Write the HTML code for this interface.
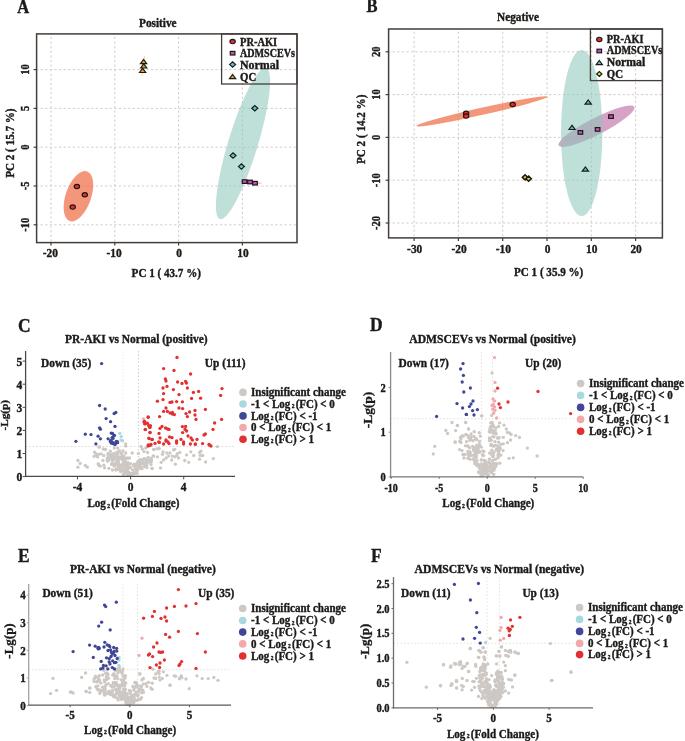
<!DOCTYPE html>
<html><head><meta charset="utf-8"><style>
html,body{margin:0;padding:0;background:#fff;}
svg{display:block;filter:blur(0.35px);}
text{font-family:"Liberation Serif",serif;font-weight:bold;stroke:#1c1a18;stroke-width:0.35px;}
</style></head><body>
<svg width="685" height="741" viewBox="0 0 685 741">
<rect width="685" height="741" fill="#fff"/>
<line x1="51.0" y1="33.9" x2="51.0" y2="242.6" stroke="#d5ccc8" stroke-width="1" stroke-dasharray="2.3 2.3" stroke-dashoffset="1.65"/>
<line x1="114.8" y1="33.9" x2="114.8" y2="242.6" stroke="#d5ccc8" stroke-width="1" stroke-dasharray="2.3 2.3" stroke-dashoffset="1.65"/>
<line x1="178.6" y1="33.9" x2="178.6" y2="242.6" stroke="#d5ccc8" stroke-width="1" stroke-dasharray="2.3 2.3" stroke-dashoffset="1.65"/>
<line x1="242.4" y1="33.9" x2="242.4" y2="242.6" stroke="#d5ccc8" stroke-width="1" stroke-dasharray="2.3 2.3" stroke-dashoffset="1.65"/>
<line x1="36.6" y1="69.6" x2="297" y2="69.6" stroke="#d5ccc8" stroke-width="1" stroke-dasharray="2.3 2.3" stroke-dashoffset="0.6"/>
<line x1="36.6" y1="108.4" x2="297" y2="108.4" stroke="#d5ccc8" stroke-width="1" stroke-dasharray="2.3 2.3" stroke-dashoffset="0.6"/>
<line x1="36.6" y1="147.2" x2="297" y2="147.2" stroke="#d5ccc8" stroke-width="1" stroke-dasharray="2.3 2.3" stroke-dashoffset="0.6"/>
<line x1="36.6" y1="186.0" x2="297" y2="186.0" stroke="#d5ccc8" stroke-width="1" stroke-dasharray="2.3 2.3" stroke-dashoffset="0.6"/>
<line x1="36.6" y1="224.8" x2="297" y2="224.8" stroke="#d5ccc8" stroke-width="1" stroke-dasharray="2.3 2.3" stroke-dashoffset="0.6"/>
<ellipse cx="78.4" cy="196.2" rx="12.7" ry="26.3" transform="rotate(19.3 78.4 196.2)" fill="#ef734c" fill-opacity="0.75"/>
<ellipse cx="243" cy="143.5" rx="14.8" ry="79" transform="rotate(17 243 143.5)" fill="#8bc7ba" fill-opacity="0.55"/>
<ellipse cx="143.2" cy="66" rx="0.6" ry="10.5" transform="rotate(8 143.2 66)" fill="#f7c56a"/>
<ellipse cx="250.5" cy="182.3" rx="11.5" ry="0.6" transform="rotate(5 250.5 182.3)" fill="#e890d0"/>
<ellipse cx="76.9" cy="186.5" rx="2.65" ry="2.15" fill="#ee2a2a" stroke="#1a1a1a" stroke-width="1.2"/>
<ellipse cx="84.8" cy="194.8" rx="2.65" ry="2.15" fill="#ee2a2a" stroke="#1a1a1a" stroke-width="1.2"/>
<ellipse cx="72.7" cy="207.1" rx="2.65" ry="2.15" fill="#ee2a2a" stroke="#1a1a1a" stroke-width="1.2"/>
<path d="M140.5 63.7L143.6 59.5L146.7 63.7Z" fill="#e9a22a" stroke="#1a1a1a" stroke-width="1.2" stroke-linejoin="miter"/>
<path d="M140.6 68.0L143.7 63.8L146.8 68.0Z" fill="#e9a22a" stroke="#1a1a1a" stroke-width="1.2" stroke-linejoin="miter"/>
<path d="M139.5 72.5L142.6 68.3L145.7 72.5Z" fill="#e9a22a" stroke="#1a1a1a" stroke-width="1.2" stroke-linejoin="miter"/>
<path d="M251.8 108.2L254.8 105.5L257.8 108.2L254.8 110.9Z" fill="#5fc4bd" stroke="#1a1a1a" stroke-width="1.2"/>
<path d="M230.0 155.6L233 152.9L236.0 155.6L233 158.3Z" fill="#5fc4bd" stroke="#1a1a1a" stroke-width="1.2"/>
<path d="M238.4 166.6L241.4 163.9L244.4 166.6L241.4 169.3Z" fill="#5fc4bd" stroke="#1a1a1a" stroke-width="1.2"/>
<rect x="242.3" y="179.8" width="4.6" height="3.6" fill="#c552b2" stroke="#1a1a1a" stroke-width="1.2"/>
<rect x="247.7" y="180.2" width="4.6" height="3.6" fill="#c552b2" stroke="#1a1a1a" stroke-width="1.2"/>
<rect x="252.7" y="181.4" width="4.6" height="3.6" fill="#c552b2" stroke="#1a1a1a" stroke-width="1.2"/>
<rect x="36.6" y="33.9" width="260.4" height="208.7" fill="none" stroke="#443d38" stroke-width="1.5"/>
<line x1="51.0" y1="242.6" x2="51.0" y2="245.6" stroke="#443d38" stroke-width="1.2"/>
<text transform="translate(50.3 257) scale(1 1.03)" font-size="11.4" text-anchor="middle" fill="#1c1a18">-20</text>
<line x1="114.8" y1="242.6" x2="114.8" y2="245.6" stroke="#443d38" stroke-width="1.2"/>
<text transform="translate(114.1 257) scale(1 1.03)" font-size="11.4" text-anchor="middle" fill="#1c1a18">-10</text>
<line x1="178.6" y1="242.6" x2="178.6" y2="245.6" stroke="#443d38" stroke-width="1.2"/>
<text transform="translate(179.1 257) scale(1 1.03)" font-size="11.4" text-anchor="middle" fill="#1c1a18">0</text>
<line x1="242.4" y1="242.6" x2="242.4" y2="245.6" stroke="#443d38" stroke-width="1.2"/>
<text transform="translate(242.9 257) scale(1 1.03)" font-size="11.4" text-anchor="middle" fill="#1c1a18">10</text>
<line x1="33.6" y1="69.6" x2="36.6" y2="69.6" stroke="#443d38" stroke-width="1.2"/>
<text transform="translate(29 69.6) rotate(-90) scale(1 1.15)" font-size="10.5" text-anchor="middle" fill="#1c1a18">10</text>
<line x1="33.6" y1="108.4" x2="36.6" y2="108.4" stroke="#443d38" stroke-width="1.2"/>
<text transform="translate(29 108.4) rotate(-90) scale(1 1.15)" font-size="10.5" text-anchor="middle" fill="#1c1a18">5</text>
<line x1="33.6" y1="147.2" x2="36.6" y2="147.2" stroke="#443d38" stroke-width="1.2"/>
<text transform="translate(29 147.2) rotate(-90) scale(1 1.15)" font-size="10.5" text-anchor="middle" fill="#1c1a18">0</text>
<line x1="33.6" y1="186.0" x2="36.6" y2="186.0" stroke="#443d38" stroke-width="1.2"/>
<text transform="translate(29 186.0) rotate(-90) scale(1 1.15)" font-size="10.5" text-anchor="middle" fill="#1c1a18">-5</text>
<line x1="33.6" y1="224.8" x2="36.6" y2="224.8" stroke="#443d38" stroke-width="1.2"/>
<text transform="translate(29 224.8) rotate(-90) scale(1 1.15)" font-size="10.5" text-anchor="middle" fill="#1c1a18">-10</text>
<rect x="221.6" y="33.9" width="75.4" height="50.1" fill="none" stroke="#443d38" stroke-width="1.3"/>
<ellipse cx="232.6" cy="41.6" rx="2.65" ry="2.15" fill="#ee2a2a" stroke="#1a1a1a" stroke-width="1.2"/>
<rect x="230.3" y="51.4" width="4.6" height="3.6" fill="#c552b2" stroke="#1a1a1a" stroke-width="1.2"/>
<path d="M229.6 64.6L232.6 61.9L235.6 64.6L232.6 67.3Z" fill="#5fc4bd" stroke="#1a1a1a" stroke-width="1.2"/>
<path d="M229.5 78.7L232.6 74.5L235.7 78.7Z" fill="#e9a22a" stroke="#1a1a1a" stroke-width="1.2" stroke-linejoin="miter"/>
<text transform="translate(240 45.6) scale(1 1.15)" font-size="10.3" text-anchor="start" textLength="37.2" lengthAdjust="spacingAndGlyphs" fill="#1c1a18">PR-AKI</text>
<text transform="translate(240 57) scale(1 1.15)" font-size="10.3" text-anchor="start" textLength="55" lengthAdjust="spacingAndGlyphs" fill="#1c1a18">ADMSCEVs</text>
<text transform="translate(240 68.8) scale(1 1.15)" font-size="10.3" text-anchor="start" textLength="39" lengthAdjust="spacingAndGlyphs" fill="#1c1a18">Normal</text>
<text transform="translate(240 80.6) scale(1 1.15)" font-size="10.3" text-anchor="start" textLength="16.2" lengthAdjust="spacingAndGlyphs" fill="#1c1a18">QC</text>
<text transform="translate(17.2 12.8) scale(1 1.1)" font-size="16.5" text-anchor="start" fill="#1c1a18">A</text>
<text transform="translate(139 27) scale(1 1.15)" font-size="11.3" text-anchor="start" fill="#1c1a18">Positive</text>
<text transform="translate(131.6 276.5) scale(1 1.15)" font-size="11.1" text-anchor="start" fill="#1c1a18">PC 1 ( 43.7 %)</text>
<text transform="translate(13.8 143.1) rotate(-90) scale(1 1.15)" font-size="11.1" text-anchor="middle" fill="#1c1a18">PC 2 ( 15.7 %)</text>
<line x1="414.1" y1="29.0" x2="414.1" y2="237.9" stroke="#d5ccc8" stroke-width="1" stroke-dasharray="2.3 2.3" stroke-dashoffset="1.85"/>
<line x1="458.4" y1="29.0" x2="458.4" y2="237.9" stroke="#d5ccc8" stroke-width="1" stroke-dasharray="2.3 2.3" stroke-dashoffset="1.85"/>
<line x1="502.7" y1="29.0" x2="502.7" y2="237.9" stroke="#d5ccc8" stroke-width="1" stroke-dasharray="2.3 2.3" stroke-dashoffset="1.85"/>
<line x1="547.0" y1="29.0" x2="547.0" y2="237.9" stroke="#d5ccc8" stroke-width="1" stroke-dasharray="2.3 2.3" stroke-dashoffset="1.85"/>
<line x1="591.3" y1="29.0" x2="591.3" y2="237.9" stroke="#d5ccc8" stroke-width="1" stroke-dasharray="2.3 2.3" stroke-dashoffset="1.85"/>
<line x1="635.6" y1="29.0" x2="635.6" y2="237.9" stroke="#d5ccc8" stroke-width="1" stroke-dasharray="2.3 2.3" stroke-dashoffset="1.85"/>
<line x1="388.6" y1="51.8" x2="662.4" y2="51.8" stroke="#d5ccc8" stroke-width="1" stroke-dasharray="2.3 2.3" stroke-dashoffset="0.6"/>
<line x1="388.6" y1="94.6" x2="662.4" y2="94.6" stroke="#d5ccc8" stroke-width="1" stroke-dasharray="2.3 2.3" stroke-dashoffset="0.6"/>
<line x1="388.6" y1="137.4" x2="662.4" y2="137.4" stroke="#d5ccc8" stroke-width="1" stroke-dasharray="2.3 2.3" stroke-dashoffset="0.6"/>
<line x1="388.6" y1="180.2" x2="662.4" y2="180.2" stroke="#d5ccc8" stroke-width="1" stroke-dasharray="2.3 2.3" stroke-dashoffset="0.6"/>
<line x1="388.6" y1="223.0" x2="662.4" y2="223.0" stroke="#d5ccc8" stroke-width="1" stroke-dasharray="2.3 2.3" stroke-dashoffset="0.6"/>
<ellipse cx="482" cy="111.3" rx="67.2" ry="3.6" transform="rotate(-12.6 482 111.3)" fill="#ef734c" fill-opacity="0.75"/>
<ellipse cx="596.5" cy="126.2" rx="42.5" ry="8.4" transform="rotate(-27 596.5 126.2)" fill="#b966a0" fill-opacity="0.6"/>
<ellipse cx="581.7" cy="133" rx="20.7" ry="83" transform="rotate(0 581.7 133)" fill="#8bc7ba" fill-opacity="0.55"/>
<ellipse cx="527" cy="178" rx="3.2" ry="1.0" transform="rotate(15 527 178)" fill="#f0f070"/>
<ellipse cx="466.1" cy="113.2" rx="2.65" ry="2.15" fill="#ee2a2a" stroke="#1a1a1a" stroke-width="1.2"/>
<ellipse cx="466.1" cy="116.1" rx="2.65" ry="2.15" fill="#ee2a2a" stroke="#1a1a1a" stroke-width="1.2"/>
<ellipse cx="512.7" cy="104.5" rx="2.65" ry="2.15" fill="#ee2a2a" stroke="#1a1a1a" stroke-width="1.2"/>
<rect x="578.1" y="130.6" width="4.6" height="3.6" fill="#c552b2" stroke="#1a1a1a" stroke-width="1.2"/>
<rect x="595.3" y="127.6" width="4.6" height="3.6" fill="#c552b2" stroke="#1a1a1a" stroke-width="1.2"/>
<rect x="608.7" y="114.8" width="4.6" height="3.6" fill="#c552b2" stroke="#1a1a1a" stroke-width="1.2"/>
<path d="M585.1 104.1L588.2 99.9L591.3 104.1Z" fill="#5fc4bd" stroke="#1a1a1a" stroke-width="1.2" stroke-linejoin="miter"/>
<path d="M568.9 129.5L572 125.3L575.1 129.5Z" fill="#5fc4bd" stroke="#1a1a1a" stroke-width="1.2" stroke-linejoin="miter"/>
<path d="M582.3 171.1L585.4 166.9L588.5 171.1Z" fill="#5fc4bd" stroke="#1a1a1a" stroke-width="1.2" stroke-linejoin="miter"/>
<path d="M522.4 177.4L525.1 174.8L527.8 177.4L525.1 180.0Z" fill="#d4d43c" stroke="#1e1812" stroke-width="1.5"/>
<path d="M525.9 178.7L528.6 176.1L531.3 178.7L528.6 181.3Z" fill="#d4d43c" stroke="#1e1812" stroke-width="1.5"/>
<rect x="388.6" y="29.0" width="273.8" height="208.9" fill="none" stroke="#443d38" stroke-width="1.5"/>
<line x1="414.1" y1="237.9" x2="414.1" y2="240.9" stroke="#443d38" stroke-width="1.2"/>
<text transform="translate(414.7 253.3) scale(1 1.03)" font-size="11.4" text-anchor="middle" fill="#1c1a18">-30</text>
<line x1="458.4" y1="237.9" x2="458.4" y2="240.9" stroke="#443d38" stroke-width="1.2"/>
<text transform="translate(459.0 253.3) scale(1 1.03)" font-size="11.4" text-anchor="middle" fill="#1c1a18">-20</text>
<line x1="502.7" y1="237.9" x2="502.7" y2="240.9" stroke="#443d38" stroke-width="1.2"/>
<text transform="translate(503.3 253.3) scale(1 1.03)" font-size="11.4" text-anchor="middle" fill="#1c1a18">-10</text>
<line x1="547.0" y1="237.9" x2="547.0" y2="240.9" stroke="#443d38" stroke-width="1.2"/>
<text transform="translate(547.5 253.3) scale(1 1.03)" font-size="11.4" text-anchor="middle" fill="#1c1a18">0</text>
<line x1="591.3" y1="237.9" x2="591.3" y2="240.9" stroke="#443d38" stroke-width="1.2"/>
<text transform="translate(591.8 253.3) scale(1 1.03)" font-size="11.4" text-anchor="middle" fill="#1c1a18">10</text>
<line x1="635.6" y1="237.9" x2="635.6" y2="240.9" stroke="#443d38" stroke-width="1.2"/>
<text transform="translate(636.1 253.3) scale(1 1.03)" font-size="11.4" text-anchor="middle" fill="#1c1a18">20</text>
<line x1="385.6" y1="51.8" x2="388.6" y2="51.8" stroke="#443d38" stroke-width="1.2"/>
<text transform="translate(379.5 51.8) rotate(-90) scale(1 1.15)" font-size="10.5" text-anchor="middle" fill="#1c1a18">20</text>
<line x1="385.6" y1="94.6" x2="388.6" y2="94.6" stroke="#443d38" stroke-width="1.2"/>
<text transform="translate(379.5 94.6) rotate(-90) scale(1 1.15)" font-size="10.5" text-anchor="middle" fill="#1c1a18">10</text>
<line x1="385.6" y1="137.4" x2="388.6" y2="137.4" stroke="#443d38" stroke-width="1.2"/>
<text transform="translate(379.5 137.4) rotate(-90) scale(1 1.15)" font-size="10.5" text-anchor="middle" fill="#1c1a18">0</text>
<line x1="385.6" y1="180.2" x2="388.6" y2="180.2" stroke="#443d38" stroke-width="1.2"/>
<text transform="translate(379.5 180.2) rotate(-90) scale(1 1.15)" font-size="10.5" text-anchor="middle" fill="#1c1a18">-10</text>
<line x1="385.6" y1="223.0" x2="388.6" y2="223.0" stroke="#443d38" stroke-width="1.2"/>
<text transform="translate(379.5 223.0) rotate(-90) scale(1 1.15)" font-size="10.5" text-anchor="middle" fill="#1c1a18">-20</text>
<rect x="590.4" y="29.0" width="72.0" height="51.6" fill="none" stroke="#443d38" stroke-width="1.3"/>
<ellipse cx="599.3" cy="39.4" rx="2.65" ry="2.15" fill="#ee2a2a" stroke="#1a1a1a" stroke-width="1.2"/>
<rect x="597.0" y="49.2" width="4.6" height="3.6" fill="#c552b2" stroke="#1a1a1a" stroke-width="1.2"/>
<path d="M596.2 64.7L599.3 60.5L602.4 64.7Z" fill="#5fc4bd" stroke="#1a1a1a" stroke-width="1.2" stroke-linejoin="miter"/>
<path d="M596.7 74L599.3 71.66L601.9 74L599.3 76.34Z" fill="#e5e53a" stroke="#1a1a1a" stroke-width="1.2"/>
<text transform="translate(606.8 42.6) scale(1 1.15)" font-size="10.3" text-anchor="start" textLength="36.6" lengthAdjust="spacingAndGlyphs" fill="#1c1a18">PR-AKI</text>
<text transform="translate(606.8 54.2) scale(1 1.15)" font-size="10.3" text-anchor="start" textLength="55.4" lengthAdjust="spacingAndGlyphs" fill="#1c1a18">ADMSCEVs</text>
<text transform="translate(606.8 66) scale(1 1.15)" font-size="10.3" text-anchor="start" textLength="38.4" lengthAdjust="spacingAndGlyphs" fill="#1c1a18">Normal</text>
<text transform="translate(606.8 77.6) scale(1 1.15)" font-size="10.3" text-anchor="start" textLength="16.2" lengthAdjust="spacingAndGlyphs" fill="#1c1a18">QC</text>
<text transform="translate(366.4 12) scale(1 1.1)" font-size="16.5" text-anchor="start" fill="#1c1a18">B</text>
<text transform="translate(497 21.2) scale(1 1.15)" font-size="11.3" text-anchor="start" fill="#1c1a18">Negative</text>
<text transform="translate(514 276) scale(1 1.15)" font-size="11.1" text-anchor="start" fill="#1c1a18">PC 1 ( 35.9 %)</text>
<text transform="translate(364.6 129.3) rotate(-90) scale(1 1.15)" font-size="11.1" text-anchor="middle" fill="#1c1a18">PC 2 ( 14.2 %)</text>
<line x1="122.9" y1="351" x2="122.9" y2="476.4" stroke="#eeeae8" stroke-width="1" stroke-dasharray="1.5 2"/>
<line x1="138.5" y1="351" x2="138.5" y2="476.4" stroke="#d6cecb" stroke-width="1" stroke-dasharray="1.5 2"/>
<line x1="25.6" y1="446.55" x2="235" y2="446.55" stroke="#dcd7d4" stroke-width="1" stroke-dasharray="1.5 2"/>
<circle cx="77.9" cy="460.5" r="1.65" fill="#cdc8c4"/>
<circle cx="80.2" cy="463.4" r="1.65" fill="#cdc8c4"/>
<circle cx="77.9" cy="467.2" r="1.65" fill="#cdc8c4"/>
<circle cx="85.3" cy="465.4" r="1.65" fill="#cdc8c4"/>
<circle cx="87.3" cy="467.2" r="1.65" fill="#cdc8c4"/>
<circle cx="94.6" cy="452.2" r="1.65" fill="#cdc8c4"/>
<circle cx="94.1" cy="456.4" r="1.65" fill="#cdc8c4"/>
<circle cx="96.4" cy="455.3" r="1.65" fill="#cdc8c4"/>
<circle cx="98.1" cy="454.6" r="1.65" fill="#cdc8c4"/>
<circle cx="99.1" cy="447.2" r="1.65" fill="#cdc8c4"/>
<circle cx="98.1" cy="464.1" r="1.65" fill="#cdc8c4"/>
<circle cx="99.1" cy="465.4" r="1.65" fill="#cdc8c4"/>
<circle cx="99.4" cy="446.8" r="1.65" fill="#cdc8c4"/>
<circle cx="103.3" cy="449" r="1.65" fill="#cdc8c4"/>
<circle cx="105.5" cy="449.5" r="1.65" fill="#cdc8c4"/>
<circle cx="114.3" cy="448.1" r="1.65" fill="#cdc8c4"/>
<circle cx="117.8" cy="448.1" r="1.65" fill="#cdc8c4"/>
<circle cx="125.7" cy="443.8" r="1.65" fill="#cdc8c4"/>
<circle cx="125.7" cy="446" r="1.65" fill="#cdc8c4"/>
<circle cx="141" cy="446.4" r="1.65" fill="#cdc8c4"/>
<circle cx="142.3" cy="449" r="1.65" fill="#cdc8c4"/>
<circle cx="145.8" cy="448.1" r="1.65" fill="#cdc8c4"/>
<circle cx="153.7" cy="449.5" r="1.65" fill="#cdc8c4"/>
<circle cx="95.9" cy="453.8" r="1.65" fill="#cdc8c4"/>
<circle cx="98.5" cy="454.3" r="1.65" fill="#cdc8c4"/>
<circle cx="101.1" cy="453.8" r="1.65" fill="#cdc8c4"/>
<circle cx="103.8" cy="455.6" r="1.65" fill="#cdc8c4"/>
<circle cx="108.1" cy="453.4" r="1.65" fill="#cdc8c4"/>
<circle cx="110.3" cy="451.2" r="1.65" fill="#cdc8c4"/>
<circle cx="113.8" cy="453.4" r="1.65" fill="#cdc8c4"/>
<circle cx="116.9" cy="452.1" r="1.65" fill="#cdc8c4"/>
<circle cx="119.5" cy="450.8" r="1.65" fill="#cdc8c4"/>
<circle cx="121.3" cy="453.4" r="1.65" fill="#cdc8c4"/>
<circle cx="123" cy="450.8" r="1.65" fill="#cdc8c4"/>
<circle cx="125.7" cy="453" r="1.65" fill="#cdc8c4"/>
<circle cx="132.2" cy="453" r="1.65" fill="#cdc8c4"/>
<circle cx="138.4" cy="453.4" r="1.65" fill="#cdc8c4"/>
<circle cx="147.6" cy="452.5" r="1.65" fill="#cdc8c4"/>
<circle cx="144" cy="451.6" r="1.65" fill="#cdc8c4"/>
<circle cx="153.2" cy="456" r="1.65" fill="#cdc8c4"/>
<circle cx="97.6" cy="456.9" r="1.65" fill="#cdc8c4"/>
<circle cx="102.9" cy="460.4" r="1.65" fill="#cdc8c4"/>
<circle cx="107.3" cy="457.8" r="1.65" fill="#cdc8c4"/>
<circle cx="109" cy="459.5" r="1.65" fill="#cdc8c4"/>
<circle cx="111.6" cy="457.8" r="1.65" fill="#cdc8c4"/>
<circle cx="114.3" cy="459.5" r="1.65" fill="#cdc8c4"/>
<circle cx="116.5" cy="456.5" r="1.65" fill="#cdc8c4"/>
<circle cx="117.8" cy="460.4" r="1.65" fill="#cdc8c4"/>
<circle cx="121.3" cy="457.8" r="1.65" fill="#cdc8c4"/>
<circle cx="123.9" cy="456" r="1.65" fill="#cdc8c4"/>
<circle cx="125.2" cy="459.5" r="1.65" fill="#cdc8c4"/>
<circle cx="141.4" cy="460.4" r="1.65" fill="#cdc8c4"/>
<circle cx="144" cy="458.6" r="1.65" fill="#cdc8c4"/>
<circle cx="146.7" cy="459.5" r="1.65" fill="#cdc8c4"/>
<circle cx="149.3" cy="460.4" r="1.65" fill="#cdc8c4"/>
<circle cx="151" cy="461.3" r="1.65" fill="#cdc8c4"/>
<circle cx="98.5" cy="463.9" r="1.65" fill="#cdc8c4"/>
<circle cx="100.3" cy="466.1" r="1.65" fill="#cdc8c4"/>
<circle cx="103.8" cy="465.2" r="1.65" fill="#cdc8c4"/>
<circle cx="104.6" cy="467.8" r="1.65" fill="#cdc8c4"/>
<circle cx="109" cy="468.3" r="1.65" fill="#cdc8c4"/>
<circle cx="111.6" cy="463.9" r="1.65" fill="#cdc8c4"/>
<circle cx="115.1" cy="463.9" r="1.65" fill="#cdc8c4"/>
<circle cx="118.6" cy="463.9" r="1.65" fill="#cdc8c4"/>
<circle cx="121.3" cy="464.8" r="1.65" fill="#cdc8c4"/>
<circle cx="123.9" cy="463" r="1.65" fill="#cdc8c4"/>
<circle cx="125.7" cy="464.8" r="1.65" fill="#cdc8c4"/>
<circle cx="128.3" cy="466.5" r="1.65" fill="#cdc8c4"/>
<circle cx="133.5" cy="465.7" r="1.65" fill="#cdc8c4"/>
<circle cx="136.2" cy="463.9" r="1.65" fill="#cdc8c4"/>
<circle cx="138.8" cy="464.8" r="1.65" fill="#cdc8c4"/>
<circle cx="142.3" cy="463" r="1.65" fill="#cdc8c4"/>
<circle cx="145.8" cy="463" r="1.65" fill="#cdc8c4"/>
<circle cx="148.4" cy="462.2" r="1.65" fill="#cdc8c4"/>
<circle cx="151.9" cy="468.3" r="1.65" fill="#cdc8c4"/>
<circle cx="112.5" cy="470" r="1.65" fill="#cdc8c4"/>
<circle cx="116" cy="470" r="1.65" fill="#cdc8c4"/>
<circle cx="118.6" cy="469.2" r="1.65" fill="#cdc8c4"/>
<circle cx="121.3" cy="470" r="1.65" fill="#cdc8c4"/>
<circle cx="123.9" cy="470.9" r="1.65" fill="#cdc8c4"/>
<circle cx="126.5" cy="471.8" r="1.65" fill="#cdc8c4"/>
<circle cx="129.2" cy="472.7" r="1.65" fill="#cdc8c4"/>
<circle cx="131.8" cy="473.5" r="1.65" fill="#cdc8c4"/>
<circle cx="134.4" cy="471.8" r="1.65" fill="#cdc8c4"/>
<circle cx="137" cy="470" r="1.65" fill="#cdc8c4"/>
<circle cx="139.7" cy="468.3" r="1.65" fill="#cdc8c4"/>
<circle cx="135.3" cy="468.3" r="1.65" fill="#cdc8c4"/>
<circle cx="137.9" cy="465.7" r="1.65" fill="#cdc8c4"/>
<circle cx="123.9" cy="474" r="1.65" fill="#cdc8c4"/>
<circle cx="127.4" cy="474" r="1.65" fill="#cdc8c4"/>
<circle cx="130.9" cy="474.4" r="1.65" fill="#cdc8c4"/>
<circle cx="133.5" cy="474" r="1.65" fill="#cdc8c4"/>
<circle cx="136.2" cy="473.5" r="1.65" fill="#cdc8c4"/>
<circle cx="154.3" cy="449.3" r="1.65" fill="#cdc8c4"/>
<circle cx="157.4" cy="448.7" r="1.65" fill="#cdc8c4"/>
<circle cx="159.3" cy="448.7" r="1.65" fill="#cdc8c4"/>
<circle cx="163" cy="451.8" r="1.65" fill="#cdc8c4"/>
<circle cx="162.4" cy="454.3" r="1.65" fill="#cdc8c4"/>
<circle cx="166.8" cy="453" r="1.65" fill="#cdc8c4"/>
<circle cx="169.9" cy="453" r="1.65" fill="#cdc8c4"/>
<circle cx="173.6" cy="449.9" r="1.65" fill="#cdc8c4"/>
<circle cx="174.8" cy="449.3" r="1.65" fill="#cdc8c4"/>
<circle cx="177.3" cy="453.6" r="1.65" fill="#cdc8c4"/>
<circle cx="179.8" cy="452.4" r="1.65" fill="#cdc8c4"/>
<circle cx="153.7" cy="456.1" r="1.65" fill="#cdc8c4"/>
<circle cx="157.4" cy="456.8" r="1.65" fill="#cdc8c4"/>
<circle cx="166.1" cy="458" r="1.65" fill="#cdc8c4"/>
<circle cx="168.6" cy="456.1" r="1.65" fill="#cdc8c4"/>
<circle cx="172.3" cy="456.1" r="1.65" fill="#cdc8c4"/>
<circle cx="174.8" cy="456.8" r="1.65" fill="#cdc8c4"/>
<circle cx="176.7" cy="455.5" r="1.65" fill="#cdc8c4"/>
<circle cx="178.5" cy="458" r="1.65" fill="#cdc8c4"/>
<circle cx="171.7" cy="459.9" r="1.65" fill="#cdc8c4"/>
<circle cx="163.6" cy="459.9" r="1.65" fill="#cdc8c4"/>
<circle cx="161.2" cy="462.3" r="1.65" fill="#cdc8c4"/>
<circle cx="151.2" cy="461.7" r="1.65" fill="#cdc8c4"/>
<circle cx="151.2" cy="459.2" r="1.65" fill="#cdc8c4"/>
<circle cx="186.6" cy="454.9" r="1.65" fill="#cdc8c4"/>
<circle cx="190.7" cy="451.8" r="1.65" fill="#cdc8c4"/>
<circle cx="193.7" cy="455.5" r="1.65" fill="#cdc8c4"/>
<circle cx="199.6" cy="452.4" r="1.65" fill="#cdc8c4"/>
<circle cx="200.9" cy="451.2" r="1.65" fill="#cdc8c4"/>
<circle cx="200.3" cy="455.5" r="1.65" fill="#cdc8c4"/>
<circle cx="202.7" cy="455.5" r="1.65" fill="#cdc8c4"/>
<circle cx="199.6" cy="459.2" r="1.65" fill="#cdc8c4"/>
<circle cx="205.6" cy="462" r="1.65" fill="#cdc8c4"/>
<circle cx="213.3" cy="458.6" r="1.65" fill="#cdc8c4"/>
<circle cx="217.4" cy="446.6" r="1.65" fill="#cdc8c4"/>
<circle cx="184.7" cy="460.5" r="1.65" fill="#cdc8c4"/>
<circle cx="188.7" cy="462.3" r="1.65" fill="#cdc8c4"/>
<circle cx="175.4" cy="464.2" r="1.65" fill="#cdc8c4"/>
<circle cx="160.5" cy="467.9" r="1.65" fill="#cdc8c4"/>
<circle cx="152.2" cy="468.5" r="1.65" fill="#cdc8c4"/>
<circle cx="118.7" cy="459.2" r="1.65" fill="#cdc8c4"/>
<circle cx="118.2" cy="467.0" r="1.65" fill="#cdc8c4"/>
<circle cx="118.0" cy="457.4" r="1.65" fill="#cdc8c4"/>
<circle cx="108.8" cy="456.8" r="1.65" fill="#cdc8c4"/>
<circle cx="122.6" cy="465.0" r="1.65" fill="#cdc8c4"/>
<circle cx="136.0" cy="466.6" r="1.65" fill="#cdc8c4"/>
<circle cx="126.1" cy="471.5" r="1.65" fill="#cdc8c4"/>
<circle cx="144.8" cy="458.8" r="1.65" fill="#cdc8c4"/>
<circle cx="118.4" cy="462.3" r="1.65" fill="#cdc8c4"/>
<circle cx="138.1" cy="465.3" r="1.65" fill="#cdc8c4"/>
<circle cx="127.1" cy="468.3" r="1.65" fill="#cdc8c4"/>
<circle cx="109.1" cy="458.7" r="1.65" fill="#cdc8c4"/>
<circle cx="140.7" cy="466.3" r="1.65" fill="#cdc8c4"/>
<circle cx="127.8" cy="464.5" r="1.65" fill="#cdc8c4"/>
<circle cx="107.1" cy="460.1" r="1.65" fill="#cdc8c4"/>
<circle cx="116.5" cy="463.0" r="1.65" fill="#cdc8c4"/>
<circle cx="108.7" cy="458.2" r="1.65" fill="#cdc8c4"/>
<circle cx="111.8" cy="464.0" r="1.65" fill="#cdc8c4"/>
<circle cx="127.1" cy="464.8" r="1.65" fill="#cdc8c4"/>
<circle cx="123.3" cy="474.3" r="1.65" fill="#cdc8c4"/>
<circle cx="112.8" cy="460.7" r="1.65" fill="#cdc8c4"/>
<circle cx="118.7" cy="464.4" r="1.65" fill="#cdc8c4"/>
<circle cx="150.9" cy="458.2" r="1.65" fill="#cdc8c4"/>
<circle cx="125.9" cy="464.9" r="1.65" fill="#cdc8c4"/>
<circle cx="130.5" cy="473.7" r="1.65" fill="#cdc8c4"/>
<circle cx="117.7" cy="459.1" r="1.65" fill="#cdc8c4"/>
<circle cx="119.4" cy="457.0" r="1.65" fill="#cdc8c4"/>
<circle cx="112.5" cy="456.1" r="1.65" fill="#cdc8c4"/>
<circle cx="121.8" cy="456.7" r="1.65" fill="#cdc8c4"/>
<circle cx="126.4" cy="468.0" r="1.65" fill="#cdc8c4"/>
<circle cx="118.7" cy="466.8" r="1.65" fill="#cdc8c4"/>
<circle cx="122.3" cy="459.7" r="1.65" fill="#cdc8c4"/>
<circle cx="151.0" cy="464.5" r="1.65" fill="#cdc8c4"/>
<circle cx="113.8" cy="459.0" r="1.65" fill="#cdc8c4"/>
<circle cx="108.1" cy="454.8" r="1.65" fill="#cdc8c4"/>
<circle cx="123.4" cy="465.6" r="1.65" fill="#cdc8c4"/>
<circle cx="118.3" cy="465.2" r="1.65" fill="#cdc8c4"/>
<circle cx="116.0" cy="469.2" r="1.65" fill="#cdc8c4"/>
<circle cx="114.1" cy="457.2" r="1.65" fill="#cdc8c4"/>
<circle cx="120.7" cy="468.3" r="1.65" fill="#cdc8c4"/>
<circle cx="118.0" cy="453.3" r="1.65" fill="#cdc8c4"/>
<circle cx="111.8" cy="464.4" r="1.65" fill="#cdc8c4"/>
<circle cx="127.0" cy="474.3" r="1.65" fill="#cdc8c4"/>
<circle cx="138.5" cy="463.1" r="1.65" fill="#cdc8c4"/>
<circle cx="128.0" cy="473.2" r="1.65" fill="#cdc8c4"/>
<circle cx="150.9" cy="459.9" r="1.65" fill="#cdc8c4"/>
<circle cx="133.4" cy="473.7" r="1.65" fill="#cdc8c4"/>
<circle cx="139.3" cy="460.6" r="1.65" fill="#cdc8c4"/>
<circle cx="122.3" cy="465.4" r="1.65" fill="#cdc8c4"/>
<circle cx="124.8" cy="468.9" r="1.65" fill="#cdc8c4"/>
<circle cx="115.7" cy="454.8" r="1.65" fill="#cdc8c4"/>
<circle cx="125.7" cy="463.3" r="1.65" fill="#cdc8c4"/>
<circle cx="112.3" cy="463.8" r="1.65" fill="#cdc8c4"/>
<circle cx="114.7" cy="466.0" r="1.65" fill="#cdc8c4"/>
<circle cx="151.0" cy="460.5" r="1.65" fill="#cdc8c4"/>
<circle cx="110.7" cy="455.1" r="1.65" fill="#cdc8c4"/>
<circle cx="145.8" cy="460.7" r="1.65" fill="#cdc8c4"/>
<circle cx="121.4" cy="453.4" r="1.65" fill="#cdc8c4"/>
<circle cx="114.0" cy="465.8" r="1.65" fill="#cdc8c4"/>
<circle cx="139.9" cy="468.1" r="1.65" fill="#cdc8c4"/>
<circle cx="144.2" cy="464.0" r="1.65" fill="#cdc8c4"/>
<circle cx="116.8" cy="454.1" r="1.65" fill="#cdc8c4"/>
<circle cx="112.2" cy="460.2" r="1.65" fill="#cdc8c4"/>
<circle cx="132.6" cy="469.9" r="1.65" fill="#cdc8c4"/>
<circle cx="143.5" cy="463.6" r="1.65" fill="#cdc8c4"/>
<circle cx="111.3" cy="454.2" r="1.65" fill="#cdc8c4"/>
<circle cx="149.6" cy="461.0" r="1.65" fill="#cdc8c4"/>
<circle cx="142.1" cy="460.5" r="1.65" fill="#cdc8c4"/>
<circle cx="122.3" cy="458.8" r="1.65" fill="#cdc8c4"/>
<circle cx="128.7" cy="473.6" r="1.65" fill="#cdc8c4"/>
<circle cx="123.5" cy="462.4" r="1.65" fill="#cdc8c4"/>
<circle cx="119.8" cy="458.4" r="1.65" fill="#cdc8c4"/>
<circle cx="128.5" cy="474.5" r="1.65" fill="#cdc8c4"/>
<circle cx="125.1" cy="467.3" r="1.65" fill="#cdc8c4"/>
<circle cx="112.6" cy="463.8" r="1.65" fill="#cdc8c4"/>
<circle cx="110.9" cy="455.2" r="1.65" fill="#cdc8c4"/>
<circle cx="142.0" cy="468.7" r="1.65" fill="#cdc8c4"/>
<circle cx="112.8" cy="458.4" r="1.65" fill="#cdc8c4"/>
<circle cx="129.2" cy="473.5" r="1.65" fill="#cdc8c4"/>
<circle cx="117.6" cy="464.1" r="1.65" fill="#cdc8c4"/>
<circle cx="127.9" cy="467.3" r="1.65" fill="#cdc8c4"/>
<circle cx="126.5" cy="466.1" r="1.65" fill="#cdc8c4"/>
<circle cx="107.8" cy="461.2" r="1.65" fill="#cdc8c4"/>
<circle cx="127.4" cy="471.1" r="1.65" fill="#cdc8c4"/>
<circle cx="142.3" cy="461.7" r="1.65" fill="#cdc8c4"/>
<circle cx="128.8" cy="472.5" r="1.65" fill="#cdc8c4"/>
<circle cx="140.2" cy="466.5" r="1.65" fill="#cdc8c4"/>
<circle cx="111.0" cy="456.4" r="1.65" fill="#cdc8c4"/>
<circle cx="121.7" cy="470.5" r="1.65" fill="#cdc8c4"/>
<circle cx="140.9" cy="463.6" r="1.65" fill="#cdc8c4"/>
<circle cx="126.6" cy="469.7" r="1.65" fill="#cdc8c4"/>
<circle cx="127.6" cy="469.0" r="1.65" fill="#cdc8c4"/>
<circle cx="129.5" cy="457.9" r="1.65" fill="#cdc8c4"/>
<circle cx="116.0" cy="462.8" r="1.65" fill="#cdc8c4"/>
<circle cx="128.2" cy="458.3" r="1.65" fill="#cdc8c4"/>
<circle cx="118.5" cy="466.0" r="1.65" fill="#cdc8c4"/>
<circle cx="130.6" cy="467.6" r="1.65" fill="#cdc8c4"/>
<circle cx="123.8" cy="459.1" r="1.65" fill="#cdc8c4"/>
<circle cx="130.5" cy="463.7" r="1.65" fill="#cdc8c4"/>
<circle cx="117.2" cy="460.7" r="1.65" fill="#cdc8c4"/>
<circle cx="129.0" cy="467.7" r="1.65" fill="#cdc8c4"/>
<circle cx="125.7" cy="462.3" r="1.65" fill="#cdc8c4"/>
<circle cx="124.5" cy="466.4" r="1.65" fill="#cdc8c4"/>
<circle cx="129.7" cy="463.8" r="1.65" fill="#cdc8c4"/>
<circle cx="117.7" cy="468.6" r="1.65" fill="#cdc8c4"/>
<circle cx="124.8" cy="458.1" r="1.65" fill="#cdc8c4"/>
<circle cx="127.3" cy="458.0" r="1.65" fill="#cdc8c4"/>
<circle cx="127.9" cy="462.6" r="1.65" fill="#cdc8c4"/>
<circle cx="118.3" cy="457.1" r="1.65" fill="#cdc8c4"/>
<circle cx="127.6" cy="464.3" r="1.65" fill="#cdc8c4"/>
<circle cx="121.6" cy="467.3" r="1.65" fill="#cdc8c4"/>
<circle cx="118.3" cy="461.5" r="1.65" fill="#cdc8c4"/>
<circle cx="127.9" cy="469.2" r="1.65" fill="#cdc8c4"/>
<circle cx="117.4" cy="469.5" r="1.65" fill="#cdc8c4"/>
<circle cx="120.6" cy="471.5" r="1.65" fill="#cdc8c4"/>
<circle cx="125.7" cy="472.6" r="1.65" fill="#cdc8c4"/>
<circle cx="117.5" cy="459.2" r="1.65" fill="#cdc8c4"/>
<circle cx="116.8" cy="458.1" r="1.65" fill="#cdc8c4"/>
<circle cx="123.7" cy="471.3" r="1.65" fill="#cdc8c4"/>
<circle cx="117.1" cy="456.9" r="1.65" fill="#cdc8c4"/>
<circle cx="142.4" cy="461.7" r="1.65" fill="#cdc8c4"/>
<circle cx="138.2" cy="462.3" r="1.65" fill="#cdc8c4"/>
<circle cx="135.0" cy="465.3" r="1.65" fill="#cdc8c4"/>
<circle cx="138.8" cy="468.2" r="1.65" fill="#cdc8c4"/>
<circle cx="141.3" cy="459.8" r="1.65" fill="#cdc8c4"/>
<circle cx="140.5" cy="459.8" r="1.65" fill="#cdc8c4"/>
<circle cx="137.0" cy="466.3" r="1.65" fill="#cdc8c4"/>
<circle cx="136.2" cy="470.1" r="1.65" fill="#cdc8c4"/>
<circle cx="138.0" cy="461.2" r="1.65" fill="#cdc8c4"/>
<circle cx="145.1" cy="466.6" r="1.65" fill="#cdc8c4"/>
<circle cx="140.4" cy="459.6" r="1.65" fill="#cdc8c4"/>
<circle cx="142.0" cy="463.6" r="1.65" fill="#cdc8c4"/>
<circle cx="148.1" cy="457.4" r="1.65" fill="#cdc8c4"/>
<circle cx="146.9" cy="467.5" r="1.65" fill="#cdc8c4"/>
<circle cx="146.2" cy="462.1" r="1.65" fill="#cdc8c4"/>
<circle cx="133.8" cy="464.5" r="1.65" fill="#cdc8c4"/>
<circle cx="146.5" cy="463.8" r="1.65" fill="#cdc8c4"/>
<circle cx="136.8" cy="472.6" r="1.65" fill="#cdc8c4"/>
<circle cx="135.7" cy="467.9" r="1.65" fill="#cdc8c4"/>
<circle cx="144.1" cy="466.6" r="1.65" fill="#cdc8c4"/>
<circle cx="146.8" cy="465.1" r="1.65" fill="#cdc8c4"/>
<circle cx="147.5" cy="461.8" r="1.65" fill="#cdc8c4"/>
<circle cx="143.6" cy="462.9" r="1.65" fill="#cdc8c4"/>
<circle cx="138.8" cy="466.2" r="1.65" fill="#cdc8c4"/>
<circle cx="148.2" cy="461.5" r="1.65" fill="#cdc8c4"/>
<circle cx="119.8" cy="433.3" r="1.65" fill="#a9d9de"/>
<circle cx="121.3" cy="436.6" r="1.65" fill="#a9d9de"/>
<circle cx="120.8" cy="440.1" r="1.65" fill="#a9d9de"/>
<circle cx="122.6" cy="440.7" r="1.65" fill="#a9d9de"/>
<circle cx="143.5" cy="418.8" r="1.65" fill="#f1a9ab"/>
<circle cx="101.6" cy="363.6" r="1.65" fill="#3f4796"/>
<circle cx="99.6" cy="405.5" r="1.65" fill="#3f4796"/>
<circle cx="105.2" cy="409" r="1.65" fill="#3f4796"/>
<circle cx="114.1" cy="413.6" r="1.65" fill="#3f4796"/>
<circle cx="115.8" cy="412.5" r="1.65" fill="#3f4796"/>
<circle cx="106.1" cy="418.6" r="1.65" fill="#3f4796"/>
<circle cx="110.6" cy="421.7" r="1.65" fill="#3f4796"/>
<circle cx="115" cy="426.4" r="1.65" fill="#3f4796"/>
<circle cx="99.6" cy="427.8" r="1.65" fill="#3f4796"/>
<circle cx="100.4" cy="429.2" r="1.65" fill="#3f4796"/>
<circle cx="111.2" cy="433.1" r="1.65" fill="#3f4796"/>
<circle cx="112.5" cy="433.5" r="1.65" fill="#3f4796"/>
<circle cx="114.4" cy="435.3" r="1.65" fill="#3f4796"/>
<circle cx="98.1" cy="436.2" r="1.65" fill="#3f4796"/>
<circle cx="100.4" cy="438.8" r="1.65" fill="#3f4796"/>
<circle cx="108.1" cy="438.8" r="1.65" fill="#3f4796"/>
<circle cx="113" cy="438.4" r="1.65" fill="#3f4796"/>
<circle cx="110.8" cy="440.5" r="1.65" fill="#3f4796"/>
<circle cx="112.1" cy="441.9" r="1.65" fill="#3f4796"/>
<circle cx="116.5" cy="441.4" r="1.65" fill="#3f4796"/>
<circle cx="117.6" cy="442.7" r="1.65" fill="#3f4796"/>
<circle cx="115.1" cy="443.6" r="1.65" fill="#3f4796"/>
<circle cx="113" cy="443.6" r="1.65" fill="#3f4796"/>
<circle cx="111.2" cy="443" r="1.65" fill="#3f4796"/>
<circle cx="95.9" cy="443.9" r="1.65" fill="#3f4796"/>
<circle cx="75.9" cy="441.3" r="1.65" fill="#3f4796"/>
<circle cx="85.3" cy="434.2" r="1.65" fill="#3f4796"/>
<circle cx="91" cy="434.6" r="1.65" fill="#3f4796"/>
<circle cx="110.3" cy="441.6" r="1.65" fill="#3f4796"/>
<circle cx="112.5" cy="442.9" r="1.65" fill="#3f4796"/>
<circle cx="113.8" cy="443.8" r="1.65" fill="#3f4796"/>
<circle cx="116" cy="442" r="1.65" fill="#3f4796"/>
<circle cx="117.3" cy="441.6" r="1.65" fill="#3f4796"/>
<circle cx="115.1" cy="444.6" r="1.65" fill="#3f4796"/>
<circle cx="112.1" cy="437.6" r="1.65" fill="#3f4796"/>
<circle cx="113.8" cy="435.9" r="1.65" fill="#3f4796"/>
<circle cx="177" cy="357.4" r="1.65" fill="#e23030"/>
<circle cx="163.6" cy="368.6" r="1.65" fill="#e23030"/>
<circle cx="174" cy="370.4" r="1.65" fill="#e23030"/>
<circle cx="190.6" cy="374" r="1.65" fill="#e23030"/>
<circle cx="165.4" cy="379" r="1.65" fill="#e23030"/>
<circle cx="166" cy="381" r="1.65" fill="#e23030"/>
<circle cx="177.6" cy="382" r="1.65" fill="#e23030"/>
<circle cx="182" cy="383.4" r="1.65" fill="#e23030"/>
<circle cx="185.6" cy="381.4" r="1.65" fill="#e23030"/>
<circle cx="186.4" cy="383" r="1.65" fill="#e23030"/>
<circle cx="222" cy="388.6" r="1.65" fill="#e23030"/>
<circle cx="163" cy="388" r="1.65" fill="#e23030"/>
<circle cx="167" cy="386.4" r="1.65" fill="#e23030"/>
<circle cx="173.4" cy="389.6" r="1.65" fill="#e23030"/>
<circle cx="187.4" cy="388" r="1.65" fill="#e23030"/>
<circle cx="193.4" cy="392.4" r="1.65" fill="#e23030"/>
<circle cx="198.6" cy="391.4" r="1.65" fill="#e23030"/>
<circle cx="163.6" cy="393.6" r="1.65" fill="#e23030"/>
<circle cx="179" cy="394.6" r="1.65" fill="#e23030"/>
<circle cx="220.6" cy="395.4" r="1.65" fill="#e23030"/>
<circle cx="191.6" cy="398.4" r="1.65" fill="#e23030"/>
<circle cx="200.6" cy="398.2" r="1.65" fill="#e23030"/>
<circle cx="163" cy="399.6" r="1.65" fill="#e23030"/>
<circle cx="157.4" cy="401.2" r="1.65" fill="#e23030"/>
<circle cx="170" cy="402.4" r="1.65" fill="#e23030"/>
<circle cx="172" cy="402" r="1.65" fill="#e23030"/>
<circle cx="176.6" cy="401.6" r="1.65" fill="#e23030"/>
<circle cx="182.4" cy="401.8" r="1.65" fill="#e23030"/>
<circle cx="179" cy="408" r="1.65" fill="#e23030"/>
<circle cx="182.6" cy="408.6" r="1.65" fill="#e23030"/>
<circle cx="166" cy="408" r="1.65" fill="#e23030"/>
<circle cx="163.6" cy="411.4" r="1.65" fill="#e23030"/>
<circle cx="167.4" cy="411.4" r="1.65" fill="#e23030"/>
<circle cx="170" cy="413" r="1.65" fill="#e23030"/>
<circle cx="172.4" cy="414" r="1.65" fill="#e23030"/>
<circle cx="174.4" cy="414.6" r="1.65" fill="#e23030"/>
<circle cx="172.4" cy="412.4" r="1.65" fill="#e23030"/>
<circle cx="186" cy="413.6" r="1.65" fill="#e23030"/>
<circle cx="189.6" cy="412" r="1.65" fill="#e23030"/>
<circle cx="195" cy="410.4" r="1.65" fill="#e23030"/>
<circle cx="195" cy="415" r="1.65" fill="#e23030"/>
<circle cx="187.4" cy="416.6" r="1.65" fill="#e23030"/>
<circle cx="205.4" cy="409.4" r="1.65" fill="#e23030"/>
<circle cx="159.6" cy="416.6" r="1.65" fill="#e23030"/>
<circle cx="148.2" cy="417" r="1.65" fill="#e23030"/>
<circle cx="196" cy="419.4" r="1.65" fill="#e23030"/>
<circle cx="221.6" cy="419.4" r="1.65" fill="#e23030"/>
<circle cx="144" cy="422" r="1.65" fill="#e23030"/>
<circle cx="145.6" cy="423.6" r="1.65" fill="#e23030"/>
<circle cx="148.6" cy="425.6" r="1.65" fill="#e23030"/>
<circle cx="150" cy="427.4" r="1.65" fill="#e23030"/>
<circle cx="214.6" cy="423" r="1.65" fill="#e23030"/>
<circle cx="162" cy="426.4" r="1.65" fill="#e23030"/>
<circle cx="165.6" cy="428" r="1.65" fill="#e23030"/>
<circle cx="167.6" cy="429" r="1.65" fill="#e23030"/>
<circle cx="169" cy="429.4" r="1.65" fill="#e23030"/>
<circle cx="160" cy="428.4" r="1.65" fill="#e23030"/>
<circle cx="182.4" cy="426.6" r="1.65" fill="#e23030"/>
<circle cx="185.6" cy="426.4" r="1.65" fill="#e23030"/>
<circle cx="185" cy="429.4" r="1.65" fill="#e23030"/>
<circle cx="186.6" cy="431" r="1.65" fill="#e23030"/>
<circle cx="145.4" cy="429.4" r="1.65" fill="#e23030"/>
<circle cx="159" cy="433.4" r="1.65" fill="#e23030"/>
<circle cx="150" cy="432.6" r="1.65" fill="#e23030"/>
<circle cx="182.6" cy="432.6" r="1.65" fill="#e23030"/>
<circle cx="188" cy="436" r="1.65" fill="#e23030"/>
<circle cx="213" cy="429.4" r="1.65" fill="#e23030"/>
<circle cx="204" cy="435" r="1.65" fill="#e23030"/>
<circle cx="205.4" cy="434" r="1.65" fill="#e23030"/>
<circle cx="169.6" cy="437" r="1.65" fill="#e23030"/>
<circle cx="172" cy="437.6" r="1.65" fill="#e23030"/>
<circle cx="160" cy="438" r="1.65" fill="#e23030"/>
<circle cx="149" cy="438.6" r="1.65" fill="#e23030"/>
<circle cx="152.4" cy="439.4" r="1.65" fill="#e23030"/>
<circle cx="166" cy="440" r="1.65" fill="#e23030"/>
<circle cx="176.6" cy="441" r="1.65" fill="#e23030"/>
<circle cx="181" cy="439.4" r="1.65" fill="#e23030"/>
<circle cx="191" cy="438" r="1.65" fill="#e23030"/>
<circle cx="192.4" cy="440" r="1.65" fill="#e23030"/>
<circle cx="197" cy="439.4" r="1.65" fill="#e23030"/>
<circle cx="183.6" cy="442" r="1.65" fill="#e23030"/>
<circle cx="168" cy="442" r="1.65" fill="#e23030"/>
<circle cx="169" cy="443.6" r="1.65" fill="#e23030"/>
<circle cx="163.6" cy="444" r="1.65" fill="#e23030"/>
<circle cx="159.4" cy="442.4" r="1.65" fill="#e23030"/>
<circle cx="155" cy="443.4" r="1.65" fill="#e23030"/>
<circle cx="150" cy="445.4" r="1.65" fill="#e23030"/>
<circle cx="148" cy="446" r="1.65" fill="#e23030"/>
<circle cx="176.6" cy="443" r="1.65" fill="#e23030"/>
<circle cx="183.6" cy="444" r="1.65" fill="#e23030"/>
<circle cx="190.4" cy="444" r="1.65" fill="#e23030"/>
<circle cx="195.4" cy="444" r="1.65" fill="#e23030"/>
<circle cx="202.6" cy="443.6" r="1.65" fill="#e23030"/>
<circle cx="209" cy="444.4" r="1.65" fill="#e23030"/>
<circle cx="211" cy="446" r="1.65" fill="#e23030"/>
<circle cx="148.2" cy="417.3" r="1.65" fill="#e23030"/>
<circle cx="144.5" cy="421.3" r="1.65" fill="#e23030"/>
<circle cx="147.4" cy="423.2" r="1.65" fill="#e23030"/>
<circle cx="144.7" cy="423.9" r="1.65" fill="#e23030"/>
<circle cx="150.4" cy="425.7" r="1.65" fill="#e23030"/>
<circle cx="149.5" cy="427.1" r="1.65" fill="#e23030"/>
<circle cx="145.2" cy="429.6" r="1.65" fill="#e23030"/>
<circle cx="150" cy="432.5" r="1.65" fill="#e23030"/>
<circle cx="148.9" cy="438.1" r="1.65" fill="#e23030"/>
<circle cx="151.8" cy="439.5" r="1.65" fill="#e23030"/>
<circle cx="151" cy="444.5" r="1.65" fill="#e23030"/>
<circle cx="148.4" cy="444.8" r="1.65" fill="#e23030"/>
<circle cx="158.7" cy="441.9" r="1.65" fill="#e23030"/>
<circle cx="166.1" cy="441.2" r="1.65" fill="#e23030"/>
<circle cx="195.3" cy="444.3" r="1.65" fill="#e23030"/>
<circle cx="209.3" cy="445" r="1.65" fill="#e23030"/>
<line x1="25.6" y1="351" x2="25.6" y2="477.0" stroke="#4f4a46" stroke-width="1.3"/>
<line x1="25.0" y1="476.4" x2="235" y2="476.4" stroke="#4f4a46" stroke-width="1.3"/>
<line x1="22.6" y1="476.6" x2="25.6" y2="476.6" stroke="#4f4a46" stroke-width="1"/>
<text transform="translate(22.3 481.09) scale(1 1.15)" font-size="11.5" text-anchor="end" fill="#1c1a18">0</text>
<line x1="22.6" y1="453.5" x2="25.6" y2="453.5" stroke="#4f4a46" stroke-width="1"/>
<text transform="translate(22.3 457.99) scale(1 1.15)" font-size="11.5" text-anchor="end" fill="#1c1a18">1</text>
<line x1="22.6" y1="430.4" x2="25.6" y2="430.4" stroke="#4f4a46" stroke-width="1"/>
<text transform="translate(22.3 434.89) scale(1 1.15)" font-size="11.5" text-anchor="end" fill="#1c1a18">2</text>
<line x1="22.6" y1="407.3" x2="25.6" y2="407.3" stroke="#4f4a46" stroke-width="1"/>
<text transform="translate(22.3 411.79) scale(1 1.15)" font-size="11.5" text-anchor="end" fill="#1c1a18">3</text>
<line x1="22.6" y1="384.2" x2="25.6" y2="384.2" stroke="#4f4a46" stroke-width="1"/>
<text transform="translate(22.3 388.69) scale(1 1.15)" font-size="11.5" text-anchor="end" fill="#1c1a18">4</text>
<line x1="22.6" y1="361.1" x2="25.6" y2="361.1" stroke="#4f4a46" stroke-width="1"/>
<text transform="translate(22.3 365.59) scale(1 1.15)" font-size="11.5" text-anchor="end" fill="#1c1a18">5</text>
<line x1="77.48" y1="476.4" x2="77.48" y2="479.4" stroke="#4f4a46" stroke-width="1"/>
<text transform="translate(77.48 491) scale(1 1.15)" font-size="11.5" text-anchor="middle" fill="#1c1a18">-4</text>
<line x1="130.6" y1="476.4" x2="130.6" y2="479.4" stroke="#4f4a46" stroke-width="1"/>
<text transform="translate(130.6 491) scale(1 1.15)" font-size="11.5" text-anchor="middle" fill="#1c1a18">0</text>
<line x1="183.72" y1="476.4" x2="183.72" y2="479.4" stroke="#4f4a46" stroke-width="1"/>
<text transform="translate(183.72 491) scale(1 1.15)" font-size="11.5" text-anchor="middle" fill="#1c1a18">4</text>
<text transform="translate(18 332) scale(1 1.1)" font-size="17.5" text-anchor="start" fill="#1c1a18">C</text>
<text transform="translate(65 342.7) scale(1 1.15)" font-size="11.5" text-anchor="start" fill="#1c1a18">PR-AKI vs Normal (positive)</text>
<text transform="translate(41 367.4) scale(1 1.15)" font-size="11.4" text-anchor="start" fill="#1c1a18">Down (35)</text>
<text transform="translate(204.8 367.3) scale(1 1.15)" font-size="11.4" text-anchor="start" fill="#1c1a18">Up (111)</text>
<text transform="translate(8.3 415.3) rotate(-90) scale(1 0.95)" font-size="11.2" text-anchor="middle" fill="#1c1a18">-Lg(p)</text>
<text transform="translate(87.4 507.4) scale(1 1.15)" font-size="11.1" text-anchor="start" fill="#1c1a18">Log<tspan font-size="5.6" dx="1.3" dy="0.3">2</tspan><tspan dx="1.3" dy="-0.3">(Fold Change)</tspan></text>
<circle cx="243" cy="392.4" r="3.8" fill="#cdc8c4"/>
<text transform="translate(251 396.1) scale(1 1.15)" font-size="11" text-anchor="start" fill="#1c1a18">Insignificant change</text>
<circle cx="243" cy="404" r="3.8" fill="#a9d9de"/>
<text transform="translate(251 407.7) scale(1 1.15)" font-size="11" text-anchor="start" fill="#1c1a18">-1 &lt; Log<tspan font-size="5.4" dx="1.4" dy="0.5">2</tspan><tspan dx="1.3" dy="-0.5">(FC) &lt; 0</tspan></text>
<circle cx="243" cy="415.9" r="3.8" fill="#3f4796"/>
<text transform="translate(251 419.6) scale(1 1.15)" font-size="11" text-anchor="start" fill="#1c1a18">Log<tspan font-size="5.4" dx="1.4" dy="0.5">2</tspan><tspan dx="1.3" dy="-0.5">(FC) &lt; -1</tspan></text>
<circle cx="243" cy="427.5" r="3.8" fill="#f1a9ab"/>
<text transform="translate(251 431.2) scale(1 1.15)" font-size="11" text-anchor="start" fill="#1c1a18">0 &lt; Log<tspan font-size="5.4" dx="1.4" dy="0.5">2</tspan><tspan dx="1.3" dy="-0.5">(FC) &lt; 1</tspan></text>
<circle cx="243" cy="439.2" r="3.8" fill="#e23030"/>
<text transform="translate(251 442.9) scale(1 1.15)" font-size="11" text-anchor="start" fill="#1c1a18">Log<tspan font-size="5.4" dx="1.4" dy="0.5">2</tspan><tspan dx="1.3" dy="-0.5">(FC) &gt; 1</tspan></text>
<line x1="481.4" y1="352" x2="481.4" y2="476.9" stroke="#e8e0dd" stroke-width="1" stroke-dasharray="1.5 2"/>
<line x1="492.5" y1="352" x2="492.5" y2="476.9" stroke="#e8e0dd" stroke-width="1" stroke-dasharray="1.5 2"/>
<line x1="390.6" y1="418.72" x2="583.2" y2="418.72" stroke="#e4dedb" stroke-width="1" stroke-dasharray="1.5 2"/>
<circle cx="492" cy="373" r="1.65" fill="#cdc8c4"/>
<circle cx="481.7" cy="415.9" r="1.65" fill="#cdc8c4"/>
<circle cx="491.7" cy="415.4" r="1.65" fill="#cdc8c4"/>
<circle cx="452" cy="422.5" r="1.65" fill="#cdc8c4"/>
<circle cx="465.8" cy="422.5" r="1.65" fill="#cdc8c4"/>
<circle cx="457.3" cy="425.5" r="1.65" fill="#cdc8c4"/>
<circle cx="468.5" cy="428.9" r="1.65" fill="#cdc8c4"/>
<circle cx="481.8" cy="415.8" r="1.65" fill="#cdc8c4"/>
<circle cx="445.8" cy="430.4" r="1.65" fill="#cdc8c4"/>
<circle cx="447.6" cy="433.5" r="1.65" fill="#cdc8c4"/>
<circle cx="455.6" cy="430.6" r="1.65" fill="#cdc8c4"/>
<circle cx="474.2" cy="431.7" r="1.65" fill="#cdc8c4"/>
<circle cx="471.1" cy="434" r="1.65" fill="#cdc8c4"/>
<circle cx="479.3" cy="432.7" r="1.65" fill="#cdc8c4"/>
<circle cx="463.4" cy="436.1" r="1.65" fill="#cdc8c4"/>
<circle cx="460.9" cy="439.1" r="1.65" fill="#cdc8c4"/>
<circle cx="468.5" cy="437.6" r="1.65" fill="#cdc8c4"/>
<circle cx="474" cy="436.4" r="1.65" fill="#cdc8c4"/>
<circle cx="480.3" cy="436.1" r="1.65" fill="#cdc8c4"/>
<circle cx="466.5" cy="441.7" r="1.65" fill="#cdc8c4"/>
<circle cx="473.1" cy="440.7" r="1.65" fill="#cdc8c4"/>
<circle cx="476.7" cy="439.6" r="1.65" fill="#cdc8c4"/>
<circle cx="455.3" cy="442.2" r="1.65" fill="#cdc8c4"/>
<circle cx="434.8" cy="446.3" r="1.65" fill="#cdc8c4"/>
<circle cx="433.3" cy="453.9" r="1.65" fill="#cdc8c4"/>
<circle cx="459.6" cy="449.6" r="1.65" fill="#cdc8c4"/>
<circle cx="465.5" cy="445.8" r="1.65" fill="#cdc8c4"/>
<circle cx="467.5" cy="445.8" r="1.65" fill="#cdc8c4"/>
<circle cx="472.6" cy="446.3" r="1.65" fill="#cdc8c4"/>
<circle cx="475.7" cy="446.8" r="1.65" fill="#cdc8c4"/>
<circle cx="468" cy="451.4" r="1.65" fill="#cdc8c4"/>
<circle cx="470.1" cy="451.9" r="1.65" fill="#cdc8c4"/>
<circle cx="462.9" cy="454.5" r="1.65" fill="#cdc8c4"/>
<circle cx="465" cy="454.5" r="1.65" fill="#cdc8c4"/>
<circle cx="463.9" cy="458" r="1.65" fill="#cdc8c4"/>
<circle cx="467.8" cy="458.2" r="1.65" fill="#cdc8c4"/>
<circle cx="470.1" cy="459.3" r="1.65" fill="#cdc8c4"/>
<circle cx="473.1" cy="459" r="1.65" fill="#cdc8c4"/>
<circle cx="474.7" cy="463.6" r="1.65" fill="#cdc8c4"/>
<circle cx="499.6" cy="422.9" r="1.65" fill="#cdc8c4"/>
<circle cx="504" cy="425.1" r="1.65" fill="#cdc8c4"/>
<circle cx="506.3" cy="429" r="1.65" fill="#cdc8c4"/>
<circle cx="498.5" cy="426.5" r="1.65" fill="#cdc8c4"/>
<circle cx="507.4" cy="432.4" r="1.65" fill="#cdc8c4"/>
<circle cx="509.6" cy="433" r="1.65" fill="#cdc8c4"/>
<circle cx="511.2" cy="434.6" r="1.65" fill="#cdc8c4"/>
<circle cx="515.7" cy="435.6" r="1.65" fill="#cdc8c4"/>
<circle cx="519.5" cy="437.5" r="1.65" fill="#cdc8c4"/>
<circle cx="503.3" cy="437.3" r="1.65" fill="#cdc8c4"/>
<circle cx="499.3" cy="437.6" r="1.65" fill="#cdc8c4"/>
<circle cx="510.6" cy="440" r="1.65" fill="#cdc8c4"/>
<circle cx="507.4" cy="442.7" r="1.65" fill="#cdc8c4"/>
<circle cx="503.3" cy="443.8" r="1.65" fill="#cdc8c4"/>
<circle cx="500.9" cy="444.3" r="1.65" fill="#cdc8c4"/>
<circle cx="527.4" cy="448.1" r="1.65" fill="#cdc8c4"/>
<circle cx="503.1" cy="450.6" r="1.65" fill="#cdc8c4"/>
<circle cx="537.1" cy="456" r="1.65" fill="#cdc8c4"/>
<circle cx="509" cy="458.3" r="1.65" fill="#cdc8c4"/>
<circle cx="513.3" cy="457.8" r="1.65" fill="#cdc8c4"/>
<circle cx="499.8" cy="463.2" r="1.65" fill="#cdc8c4"/>
<circle cx="500.9" cy="455.1" r="1.65" fill="#cdc8c4"/>
<circle cx="457.6" cy="425.6" r="1.65" fill="#cdc8c4"/>
<circle cx="465.6" cy="422.4" r="1.65" fill="#cdc8c4"/>
<circle cx="468.6" cy="429" r="1.65" fill="#cdc8c4"/>
<circle cx="460.4" cy="437.6" r="1.65" fill="#cdc8c4"/>
<circle cx="455" cy="442" r="1.65" fill="#cdc8c4"/>
<circle cx="469" cy="437.6" r="1.65" fill="#cdc8c4"/>
<circle cx="481.2" cy="459.9" r="1.65" fill="#cdc8c4"/>
<circle cx="487.0" cy="471.4" r="1.65" fill="#cdc8c4"/>
<circle cx="484.7" cy="469.9" r="1.65" fill="#cdc8c4"/>
<circle cx="476.9" cy="465.4" r="1.65" fill="#cdc8c4"/>
<circle cx="486.7" cy="466.0" r="1.65" fill="#cdc8c4"/>
<circle cx="475.1" cy="453.1" r="1.65" fill="#cdc8c4"/>
<circle cx="476.3" cy="438.6" r="1.65" fill="#cdc8c4"/>
<circle cx="477.7" cy="450.7" r="1.65" fill="#cdc8c4"/>
<circle cx="483.8" cy="472.5" r="1.65" fill="#cdc8c4"/>
<circle cx="479.2" cy="466.7" r="1.65" fill="#cdc8c4"/>
<circle cx="484.9" cy="462.0" r="1.65" fill="#cdc8c4"/>
<circle cx="483.9" cy="451.6" r="1.65" fill="#cdc8c4"/>
<circle cx="478.8" cy="447.6" r="1.65" fill="#cdc8c4"/>
<circle cx="473.8" cy="455.7" r="1.65" fill="#cdc8c4"/>
<circle cx="485.9" cy="461.4" r="1.65" fill="#cdc8c4"/>
<circle cx="479.0" cy="472.8" r="1.65" fill="#cdc8c4"/>
<circle cx="479.4" cy="467.8" r="1.65" fill="#cdc8c4"/>
<circle cx="484.8" cy="469.2" r="1.65" fill="#cdc8c4"/>
<circle cx="473.7" cy="448.8" r="1.65" fill="#cdc8c4"/>
<circle cx="485.9" cy="470.0" r="1.65" fill="#cdc8c4"/>
<circle cx="483.8" cy="460.1" r="1.65" fill="#cdc8c4"/>
<circle cx="486.9" cy="467.2" r="1.65" fill="#cdc8c4"/>
<circle cx="476.0" cy="451.7" r="1.65" fill="#cdc8c4"/>
<circle cx="473.8" cy="455.0" r="1.65" fill="#cdc8c4"/>
<circle cx="481.3" cy="475.9" r="1.65" fill="#cdc8c4"/>
<circle cx="482.6" cy="464.7" r="1.65" fill="#cdc8c4"/>
<circle cx="475.5" cy="439.0" r="1.65" fill="#cdc8c4"/>
<circle cx="480.4" cy="469.2" r="1.65" fill="#cdc8c4"/>
<circle cx="476.2" cy="453.6" r="1.65" fill="#cdc8c4"/>
<circle cx="479.6" cy="445.6" r="1.65" fill="#cdc8c4"/>
<circle cx="485.1" cy="460.8" r="1.65" fill="#cdc8c4"/>
<circle cx="479.5" cy="441.5" r="1.65" fill="#cdc8c4"/>
<circle cx="477.5" cy="463.9" r="1.65" fill="#cdc8c4"/>
<circle cx="479.7" cy="452.2" r="1.65" fill="#cdc8c4"/>
<circle cx="477.3" cy="465.7" r="1.65" fill="#cdc8c4"/>
<circle cx="486.2" cy="463.9" r="1.65" fill="#cdc8c4"/>
<circle cx="476.0" cy="447.5" r="1.65" fill="#cdc8c4"/>
<circle cx="478.5" cy="471.9" r="1.65" fill="#cdc8c4"/>
<circle cx="477.0" cy="460.7" r="1.65" fill="#cdc8c4"/>
<circle cx="479.4" cy="446.3" r="1.65" fill="#cdc8c4"/>
<circle cx="483.6" cy="455.6" r="1.65" fill="#cdc8c4"/>
<circle cx="481.2" cy="474.9" r="1.65" fill="#cdc8c4"/>
<circle cx="477.8" cy="449.4" r="1.65" fill="#cdc8c4"/>
<circle cx="479.5" cy="472.3" r="1.65" fill="#cdc8c4"/>
<circle cx="475.3" cy="449.8" r="1.65" fill="#cdc8c4"/>
<circle cx="487.3" cy="468.4" r="1.65" fill="#cdc8c4"/>
<circle cx="477.0" cy="446.5" r="1.65" fill="#cdc8c4"/>
<circle cx="476.4" cy="455.4" r="1.65" fill="#cdc8c4"/>
<circle cx="481.3" cy="447.1" r="1.65" fill="#cdc8c4"/>
<circle cx="477.6" cy="449.3" r="1.65" fill="#cdc8c4"/>
<circle cx="476.2" cy="457.7" r="1.65" fill="#cdc8c4"/>
<circle cx="483.7" cy="471.2" r="1.65" fill="#cdc8c4"/>
<circle cx="475.1" cy="462.2" r="1.65" fill="#cdc8c4"/>
<circle cx="479.2" cy="444.7" r="1.65" fill="#cdc8c4"/>
<circle cx="475.5" cy="456.4" r="1.65" fill="#cdc8c4"/>
<circle cx="477.9" cy="452.7" r="1.65" fill="#cdc8c4"/>
<circle cx="474.1" cy="459.9" r="1.65" fill="#cdc8c4"/>
<circle cx="482.8" cy="454.8" r="1.65" fill="#cdc8c4"/>
<circle cx="473.7" cy="450.5" r="1.65" fill="#cdc8c4"/>
<circle cx="481.5" cy="472.3" r="1.65" fill="#cdc8c4"/>
<circle cx="479.9" cy="451.7" r="1.65" fill="#cdc8c4"/>
<circle cx="483.6" cy="473.6" r="1.65" fill="#cdc8c4"/>
<circle cx="485.3" cy="473.1" r="1.65" fill="#cdc8c4"/>
<circle cx="485.2" cy="467.7" r="1.65" fill="#cdc8c4"/>
<circle cx="480.2" cy="464.6" r="1.65" fill="#cdc8c4"/>
<circle cx="475.4" cy="461.1" r="1.65" fill="#cdc8c4"/>
<circle cx="483.0" cy="450.8" r="1.65" fill="#cdc8c4"/>
<circle cx="482.7" cy="455.2" r="1.65" fill="#cdc8c4"/>
<circle cx="476.8" cy="445.1" r="1.65" fill="#cdc8c4"/>
<circle cx="474.9" cy="449.3" r="1.65" fill="#cdc8c4"/>
<circle cx="488.6" cy="474.9" r="1.65" fill="#cdc8c4"/>
<circle cx="484.2" cy="464.5" r="1.65" fill="#cdc8c4"/>
<circle cx="488.1" cy="470.3" r="1.65" fill="#cdc8c4"/>
<circle cx="488.8" cy="462.4" r="1.65" fill="#cdc8c4"/>
<circle cx="482.5" cy="467.6" r="1.65" fill="#cdc8c4"/>
<circle cx="481.5" cy="475.6" r="1.65" fill="#cdc8c4"/>
<circle cx="483.1" cy="475.0" r="1.65" fill="#cdc8c4"/>
<circle cx="481.6" cy="467.8" r="1.65" fill="#cdc8c4"/>
<circle cx="493.8" cy="474.3" r="1.65" fill="#cdc8c4"/>
<circle cx="486.0" cy="468.4" r="1.65" fill="#cdc8c4"/>
<circle cx="482.7" cy="473.1" r="1.65" fill="#cdc8c4"/>
<circle cx="491.6" cy="472.7" r="1.65" fill="#cdc8c4"/>
<circle cx="489.9" cy="465.5" r="1.65" fill="#cdc8c4"/>
<circle cx="485.8" cy="466.8" r="1.65" fill="#cdc8c4"/>
<circle cx="487.6" cy="475.6" r="1.65" fill="#cdc8c4"/>
<circle cx="481.2" cy="468.7" r="1.65" fill="#cdc8c4"/>
<circle cx="487.1" cy="466.0" r="1.65" fill="#cdc8c4"/>
<circle cx="490.3" cy="468.1" r="1.65" fill="#cdc8c4"/>
<circle cx="487.8" cy="468.3" r="1.65" fill="#cdc8c4"/>
<circle cx="485.1" cy="467.1" r="1.65" fill="#cdc8c4"/>
<circle cx="483.8" cy="472.8" r="1.65" fill="#cdc8c4"/>
<circle cx="485.4" cy="466.9" r="1.65" fill="#cdc8c4"/>
<circle cx="486.7" cy="473.8" r="1.65" fill="#cdc8c4"/>
<circle cx="481.2" cy="463.8" r="1.65" fill="#cdc8c4"/>
<circle cx="481.9" cy="467.9" r="1.65" fill="#cdc8c4"/>
<circle cx="488.2" cy="471.1" r="1.65" fill="#cdc8c4"/>
<circle cx="487.3" cy="473.9" r="1.65" fill="#cdc8c4"/>
<circle cx="485.4" cy="471.5" r="1.65" fill="#cdc8c4"/>
<circle cx="490.7" cy="471.5" r="1.65" fill="#cdc8c4"/>
<circle cx="487.0" cy="474.4" r="1.65" fill="#cdc8c4"/>
<circle cx="484.7" cy="464.9" r="1.65" fill="#cdc8c4"/>
<circle cx="484.4" cy="473.7" r="1.65" fill="#cdc8c4"/>
<circle cx="482.5" cy="470.5" r="1.65" fill="#cdc8c4"/>
<circle cx="483.0" cy="471.8" r="1.65" fill="#cdc8c4"/>
<circle cx="483.7" cy="469.3" r="1.65" fill="#cdc8c4"/>
<circle cx="492.3" cy="423.8" r="1.65" fill="#cdc8c4"/>
<circle cx="498.8" cy="451.5" r="1.65" fill="#cdc8c4"/>
<circle cx="491.1" cy="440.3" r="1.65" fill="#cdc8c4"/>
<circle cx="494.0" cy="446.1" r="1.65" fill="#cdc8c4"/>
<circle cx="490.0" cy="431.0" r="1.65" fill="#cdc8c4"/>
<circle cx="496.7" cy="449.1" r="1.65" fill="#cdc8c4"/>
<circle cx="492.4" cy="460.6" r="1.65" fill="#cdc8c4"/>
<circle cx="491.3" cy="431.5" r="1.65" fill="#cdc8c4"/>
<circle cx="491.0" cy="445.6" r="1.65" fill="#cdc8c4"/>
<circle cx="494.6" cy="459.6" r="1.65" fill="#cdc8c4"/>
<circle cx="489.4" cy="437.8" r="1.65" fill="#cdc8c4"/>
<circle cx="492.1" cy="455.3" r="1.65" fill="#cdc8c4"/>
<circle cx="500.0" cy="448.5" r="1.65" fill="#cdc8c4"/>
<circle cx="494.4" cy="468.5" r="1.65" fill="#cdc8c4"/>
<circle cx="490.4" cy="426.7" r="1.65" fill="#cdc8c4"/>
<circle cx="489.4" cy="431.7" r="1.65" fill="#cdc8c4"/>
<circle cx="498.3" cy="446.0" r="1.65" fill="#cdc8c4"/>
<circle cx="491.8" cy="471.0" r="1.65" fill="#cdc8c4"/>
<circle cx="489.5" cy="440.5" r="1.65" fill="#cdc8c4"/>
<circle cx="495.7" cy="445.4" r="1.65" fill="#cdc8c4"/>
<circle cx="496.1" cy="434.1" r="1.65" fill="#cdc8c4"/>
<circle cx="489.6" cy="459.1" r="1.65" fill="#cdc8c4"/>
<circle cx="493.5" cy="433.2" r="1.65" fill="#cdc8c4"/>
<circle cx="492.8" cy="436.6" r="1.65" fill="#cdc8c4"/>
<circle cx="493.6" cy="463.3" r="1.65" fill="#cdc8c4"/>
<circle cx="490.2" cy="432.2" r="1.65" fill="#cdc8c4"/>
<circle cx="489.2" cy="462.8" r="1.65" fill="#cdc8c4"/>
<circle cx="491.2" cy="444.3" r="1.65" fill="#cdc8c4"/>
<circle cx="489.9" cy="429.1" r="1.65" fill="#cdc8c4"/>
<circle cx="495.2" cy="430.6" r="1.65" fill="#cdc8c4"/>
<circle cx="493.0" cy="466.7" r="1.65" fill="#cdc8c4"/>
<circle cx="489.3" cy="459.2" r="1.65" fill="#cdc8c4"/>
<circle cx="498.2" cy="450.9" r="1.65" fill="#cdc8c4"/>
<circle cx="496.1" cy="459.1" r="1.65" fill="#cdc8c4"/>
<circle cx="495.8" cy="432.9" r="1.65" fill="#cdc8c4"/>
<circle cx="494.0" cy="445.9" r="1.65" fill="#cdc8c4"/>
<circle cx="495.7" cy="466.4" r="1.65" fill="#cdc8c4"/>
<circle cx="492.7" cy="456.6" r="1.65" fill="#cdc8c4"/>
<circle cx="493.4" cy="452.7" r="1.65" fill="#cdc8c4"/>
<circle cx="497.7" cy="448.4" r="1.65" fill="#cdc8c4"/>
<circle cx="498.2" cy="457.6" r="1.65" fill="#cdc8c4"/>
<circle cx="491.7" cy="426.8" r="1.65" fill="#cdc8c4"/>
<circle cx="492.9" cy="469.2" r="1.65" fill="#cdc8c4"/>
<circle cx="491.7" cy="430.6" r="1.65" fill="#cdc8c4"/>
<circle cx="489.7" cy="453.2" r="1.65" fill="#cdc8c4"/>
<circle cx="500.1" cy="447.9" r="1.65" fill="#cdc8c4"/>
<circle cx="491.3" cy="468.7" r="1.65" fill="#cdc8c4"/>
<circle cx="490.4" cy="427.8" r="1.65" fill="#cdc8c4"/>
<circle cx="496.8" cy="463.6" r="1.65" fill="#cdc8c4"/>
<circle cx="490.3" cy="438.8" r="1.65" fill="#cdc8c4"/>
<circle cx="493.9" cy="470.3" r="1.65" fill="#cdc8c4"/>
<circle cx="498.0" cy="455.4" r="1.65" fill="#cdc8c4"/>
<circle cx="496.1" cy="450.2" r="1.65" fill="#cdc8c4"/>
<circle cx="490.3" cy="463.5" r="1.65" fill="#cdc8c4"/>
<circle cx="499.0" cy="450.5" r="1.65" fill="#cdc8c4"/>
<circle cx="495.0" cy="466.0" r="1.65" fill="#cdc8c4"/>
<circle cx="492.9" cy="432.1" r="1.65" fill="#cdc8c4"/>
<circle cx="498.6" cy="442.2" r="1.65" fill="#cdc8c4"/>
<circle cx="493.9" cy="452.6" r="1.65" fill="#cdc8c4"/>
<circle cx="491.1" cy="445.0" r="1.65" fill="#cdc8c4"/>
<circle cx="497.3" cy="438.0" r="1.65" fill="#cdc8c4"/>
<circle cx="496.8" cy="464.1" r="1.65" fill="#cdc8c4"/>
<circle cx="493.6" cy="455.8" r="1.65" fill="#cdc8c4"/>
<circle cx="499.4" cy="455.2" r="1.65" fill="#cdc8c4"/>
<circle cx="490.9" cy="467.1" r="1.65" fill="#cdc8c4"/>
<circle cx="490.8" cy="422.9" r="1.65" fill="#cdc8c4"/>
<circle cx="493.8" cy="426.9" r="1.65" fill="#cdc8c4"/>
<circle cx="492.6" cy="430.7" r="1.65" fill="#cdc8c4"/>
<circle cx="490.3" cy="452.8" r="1.65" fill="#cdc8c4"/>
<circle cx="491.7" cy="464.1" r="1.65" fill="#cdc8c4"/>
<circle cx="492.7" cy="430.3" r="1.65" fill="#cdc8c4"/>
<circle cx="494.0" cy="436.8" r="1.65" fill="#cdc8c4"/>
<circle cx="493.2" cy="425.4" r="1.65" fill="#cdc8c4"/>
<circle cx="494.9" cy="441.6" r="1.65" fill="#cdc8c4"/>
<circle cx="492.0" cy="422.3" r="1.65" fill="#cdc8c4"/>
<circle cx="494.7" cy="463.4" r="1.65" fill="#cdc8c4"/>
<circle cx="498.6" cy="453.3" r="1.65" fill="#cdc8c4"/>
<circle cx="491.8" cy="450.2" r="1.65" fill="#cdc8c4"/>
<circle cx="496.0" cy="427.8" r="1.65" fill="#cdc8c4"/>
<circle cx="498.4" cy="438.0" r="1.65" fill="#cdc8c4"/>
<circle cx="468.3" cy="446.3" r="1.65" fill="#cdc8c4"/>
<circle cx="470.0" cy="453.5" r="1.65" fill="#cdc8c4"/>
<circle cx="468.1" cy="454.3" r="1.65" fill="#cdc8c4"/>
<circle cx="468.0" cy="435.7" r="1.65" fill="#cdc8c4"/>
<circle cx="462.0" cy="450.6" r="1.65" fill="#cdc8c4"/>
<circle cx="469.5" cy="455.2" r="1.65" fill="#cdc8c4"/>
<circle cx="469.7" cy="440.3" r="1.65" fill="#cdc8c4"/>
<circle cx="471.3" cy="455.3" r="1.65" fill="#cdc8c4"/>
<circle cx="470.6" cy="439.8" r="1.65" fill="#cdc8c4"/>
<circle cx="474.6" cy="450.5" r="1.65" fill="#cdc8c4"/>
<circle cx="469.4" cy="455.8" r="1.65" fill="#cdc8c4"/>
<circle cx="459.8" cy="441.3" r="1.65" fill="#cdc8c4"/>
<circle cx="465.9" cy="434.5" r="1.65" fill="#cdc8c4"/>
<circle cx="462.4" cy="435.6" r="1.65" fill="#cdc8c4"/>
<circle cx="469.6" cy="447.8" r="1.65" fill="#cdc8c4"/>
<circle cx="468.4" cy="457.8" r="1.65" fill="#cdc8c4"/>
<circle cx="471.2" cy="436.7" r="1.65" fill="#cdc8c4"/>
<circle cx="461.1" cy="436.9" r="1.65" fill="#cdc8c4"/>
<circle cx="460.9" cy="442.5" r="1.65" fill="#cdc8c4"/>
<circle cx="468.3" cy="452.5" r="1.65" fill="#cdc8c4"/>
<circle cx="470.8" cy="438.8" r="1.65" fill="#cdc8c4"/>
<circle cx="473.2" cy="448.1" r="1.65" fill="#cdc8c4"/>
<circle cx="494.6" cy="357.6" r="1.65" fill="#f1a9ab"/>
<circle cx="495" cy="382.4" r="1.65" fill="#f1a9ab"/>
<circle cx="495" cy="391" r="1.65" fill="#f1a9ab"/>
<circle cx="493" cy="399" r="1.65" fill="#f1a9ab"/>
<circle cx="494.6" cy="401" r="1.65" fill="#f1a9ab"/>
<circle cx="493.4" cy="404.4" r="1.65" fill="#f1a9ab"/>
<circle cx="492.8" cy="409.2" r="1.65" fill="#f1a9ab"/>
<circle cx="495" cy="410.4" r="1.65" fill="#f1a9ab"/>
<circle cx="493.6" cy="413.2" r="1.65" fill="#f1a9ab"/>
<circle cx="496.6" cy="418" r="1.65" fill="#f1a9ab"/>
<circle cx="492" cy="405.5" r="1.65" fill="#f1a9ab"/>
<circle cx="494.5" cy="407" r="1.65" fill="#f1a9ab"/>
<circle cx="463" cy="363.6" r="1.65" fill="#3f4796"/>
<circle cx="460.6" cy="369" r="1.65" fill="#3f4796"/>
<circle cx="463.4" cy="375.4" r="1.65" fill="#3f4796"/>
<circle cx="462.2" cy="382" r="1.65" fill="#3f4796"/>
<circle cx="470.4" cy="388" r="1.65" fill="#3f4796"/>
<circle cx="463.8" cy="392" r="1.65" fill="#3f4796"/>
<circle cx="473" cy="401" r="1.65" fill="#3f4796"/>
<circle cx="471" cy="404" r="1.65" fill="#3f4796"/>
<circle cx="469.4" cy="406.6" r="1.65" fill="#3f4796"/>
<circle cx="457" cy="403.6" r="1.65" fill="#3f4796"/>
<circle cx="462.6" cy="408" r="1.65" fill="#3f4796"/>
<circle cx="472.6" cy="410.6" r="1.65" fill="#3f4796"/>
<circle cx="477.4" cy="409.6" r="1.65" fill="#3f4796"/>
<circle cx="466.4" cy="414.4" r="1.65" fill="#3f4796"/>
<circle cx="474" cy="415" r="1.65" fill="#3f4796"/>
<circle cx="436.6" cy="416.4" r="1.65" fill="#3f4796"/>
<circle cx="466.3" cy="414.4" r="1.65" fill="#3f4796"/>
<circle cx="497.6" cy="388.2" r="1.65" fill="#e23030"/>
<circle cx="538" cy="391.4" r="1.65" fill="#e23030"/>
<circle cx="508" cy="402" r="1.65" fill="#e23030"/>
<circle cx="499" cy="404" r="1.65" fill="#e23030"/>
<circle cx="500.4" cy="407.6" r="1.65" fill="#e23030"/>
<circle cx="570.6" cy="413.6" r="1.65" fill="#e23030"/>
<line x1="390.6" y1="352" x2="390.6" y2="477.5" stroke="#8f8985" stroke-width="1.3"/>
<line x1="390.0" y1="476.9" x2="583.2" y2="476.9" stroke="#7a7470" stroke-width="1.3"/>
<line x1="388.6" y1="477.0" x2="390.6" y2="477.0" stroke="#8f8985" stroke-width="1"/>
<text transform="translate(385.8 481.1) scale(1 1.15)" font-size="10.5" text-anchor="end" fill="#1c1a18">0</text>
<line x1="388.6" y1="432.2" x2="390.6" y2="432.2" stroke="#8f8985" stroke-width="1"/>
<text transform="translate(385.8 436.3) scale(1 1.15)" font-size="10.5" text-anchor="end" fill="#1c1a18">1</text>
<line x1="388.6" y1="387.4" x2="390.6" y2="387.4" stroke="#8f8985" stroke-width="1"/>
<text transform="translate(385.8 391.5) scale(1 1.15)" font-size="10.5" text-anchor="end" fill="#1c1a18">2</text>
<line x1="391.2" y1="476.9" x2="391.2" y2="478.9" stroke="#7a7470" stroke-width="1"/>
<text transform="translate(391.2 491.5) scale(1 1.15)" font-size="10" text-anchor="middle" fill="#1c1a18">-10</text>
<line x1="439.2" y1="476.9" x2="439.2" y2="478.9" stroke="#7a7470" stroke-width="1"/>
<text transform="translate(439.2 491.5) scale(1 1.15)" font-size="10" text-anchor="middle" fill="#1c1a18">-5</text>
<line x1="487.2" y1="476.9" x2="487.2" y2="478.9" stroke="#7a7470" stroke-width="1"/>
<text transform="translate(487.2 491.5) scale(1 1.15)" font-size="10" text-anchor="middle" fill="#1c1a18">0</text>
<line x1="535.2" y1="476.9" x2="535.2" y2="478.9" stroke="#7a7470" stroke-width="1"/>
<text transform="translate(535.2 491.5) scale(1 1.15)" font-size="10" text-anchor="middle" fill="#1c1a18">5</text>
<line x1="583.2" y1="476.9" x2="583.2" y2="478.9" stroke="#7a7470" stroke-width="1"/>
<text transform="translate(583.2 491.5) scale(1 1.15)" font-size="10" text-anchor="middle" fill="#1c1a18">10</text>
<text transform="translate(370 331) scale(1 1.1)" font-size="17.5" text-anchor="start" fill="#1c1a18">D</text>
<text transform="translate(409.3 342.8) scale(1 1.15)" font-size="11.5" text-anchor="start" textLength="166.5" lengthAdjust="spacingAndGlyphs" fill="#1c1a18">ADMSCEVs vs Normal (positive)</text>
<text transform="translate(398.6 367.4) scale(1 1.15)" font-size="11.4" text-anchor="start" fill="#1c1a18">Down (17)</text>
<text transform="translate(525 367.4) scale(1 1.15)" font-size="11.4" text-anchor="start" fill="#1c1a18">Up (20)</text>
<text transform="translate(372 410) rotate(-90) scale(1 0.95)" font-size="13.5" text-anchor="middle" fill="#1c1a18">-Lg(p)</text>
<text transform="translate(442.3 507.3) scale(1 1.15)" font-size="11.1" text-anchor="start" fill="#1c1a18">Log<tspan font-size="5.6" dx="1.3" dy="0.3">2</tspan><tspan dx="1.3" dy="-0.3">(Fold Change)</tspan></text>
<circle cx="580.6" cy="383.6" r="3.8" fill="#cdc8c4"/>
<text transform="translate(589 387.3) scale(1 1.15)" font-size="11" text-anchor="start" fill="#1c1a18">Insignificant change</text>
<circle cx="580.6" cy="395.4" r="3.8" fill="#a9d9de"/>
<text transform="translate(589 399.1) scale(1 1.15)" font-size="11" text-anchor="start" fill="#1c1a18">-1 &lt; Log<tspan font-size="5.4" dx="1.4" dy="0.5">2</tspan><tspan dx="1.3" dy="-0.5">(FC) &lt; 0</tspan></text>
<circle cx="580.6" cy="407.4" r="3.8" fill="#3f4796"/>
<text transform="translate(589 411.1) scale(1 1.15)" font-size="11" text-anchor="start" fill="#1c1a18">Log<tspan font-size="5.4" dx="1.4" dy="0.5">2</tspan><tspan dx="1.3" dy="-0.5">(FC) &lt; -1</tspan></text>
<circle cx="580.6" cy="419.4" r="3.8" fill="#f1a9ab"/>
<text transform="translate(589 423.1) scale(1 1.15)" font-size="11" text-anchor="start" fill="#1c1a18">0 &lt; Log<tspan font-size="5.4" dx="1.4" dy="0.5">2</tspan><tspan dx="1.3" dy="-0.5">(FC) &lt; 1</tspan></text>
<circle cx="580.6" cy="431.2" r="3.8" fill="#e23030"/>
<text transform="translate(589 434.9) scale(1 1.15)" font-size="11" text-anchor="start" fill="#1c1a18">Log<tspan font-size="5.4" dx="1.4" dy="0.5">2</tspan><tspan dx="1.3" dy="-0.5">(FC) &gt; 1</tspan></text>
<line x1="122.9" y1="584" x2="122.9" y2="705.2" stroke="#e8e0dd" stroke-width="1" stroke-dasharray="1.5 2"/>
<line x1="137.4" y1="584" x2="137.4" y2="705.2" stroke="#e8e0dd" stroke-width="1" stroke-dasharray="1.5 2"/>
<line x1="28.7" y1="669.69" x2="231" y2="669.69" stroke="#e4dedb" stroke-width="1" stroke-dasharray="1.5 2"/>
<circle cx="85.6" cy="673" r="1.65" fill="#cdc8c4"/>
<circle cx="81.6" cy="677.4" r="1.65" fill="#cdc8c4"/>
<circle cx="99.4" cy="675.6" r="1.65" fill="#cdc8c4"/>
<circle cx="103.8" cy="670.3" r="1.65" fill="#cdc8c4"/>
<circle cx="107.4" cy="673.4" r="1.65" fill="#cdc8c4"/>
<circle cx="94.9" cy="677.8" r="1.65" fill="#cdc8c4"/>
<circle cx="94" cy="681.4" r="1.65" fill="#cdc8c4"/>
<circle cx="96.7" cy="681.9" r="1.65" fill="#cdc8c4"/>
<circle cx="95.8" cy="686.7" r="1.65" fill="#cdc8c4"/>
<circle cx="89.6" cy="688.1" r="1.65" fill="#cdc8c4"/>
<circle cx="86" cy="691.5" r="1.65" fill="#cdc8c4"/>
<circle cx="89.8" cy="692.4" r="1.65" fill="#cdc8c4"/>
<circle cx="71.3" cy="692.1" r="1.65" fill="#cdc8c4"/>
<circle cx="73.1" cy="693" r="1.65" fill="#cdc8c4"/>
<circle cx="99.8" cy="693.4" r="1.65" fill="#cdc8c4"/>
<circle cx="104.7" cy="695.2" r="1.65" fill="#cdc8c4"/>
<circle cx="99.4" cy="689.9" r="1.65" fill="#cdc8c4"/>
<circle cx="102.5" cy="687.2" r="1.65" fill="#cdc8c4"/>
<circle cx="108.3" cy="683.6" r="1.65" fill="#cdc8c4"/>
<circle cx="111" cy="685.4" r="1.65" fill="#cdc8c4"/>
<circle cx="104.7" cy="681.9" r="1.65" fill="#cdc8c4"/>
<circle cx="99.4" cy="680.1" r="1.65" fill="#cdc8c4"/>
<circle cx="53" cy="678.4" r="1.65" fill="#cdc8c4"/>
<circle cx="56.6" cy="690.4" r="1.65" fill="#cdc8c4"/>
<circle cx="50.6" cy="693.6" r="1.65" fill="#cdc8c4"/>
<circle cx="70.4" cy="692" r="1.65" fill="#cdc8c4"/>
<circle cx="86.4" cy="691.4" r="1.65" fill="#cdc8c4"/>
<circle cx="90" cy="688" r="1.65" fill="#cdc8c4"/>
<circle cx="139.5" cy="673.8" r="1.65" fill="#cdc8c4"/>
<circle cx="125.4" cy="675.6" r="1.65" fill="#cdc8c4"/>
<circle cx="143.4" cy="678.4" r="1.65" fill="#cdc8c4"/>
<circle cx="152.9" cy="669.2" r="1.65" fill="#cdc8c4"/>
<circle cx="159.2" cy="671" r="1.65" fill="#cdc8c4"/>
<circle cx="159.2" cy="673.6" r="1.65" fill="#cdc8c4"/>
<circle cx="155.7" cy="674" r="1.65" fill="#cdc8c4"/>
<circle cx="155.7" cy="678.4" r="1.65" fill="#cdc8c4"/>
<circle cx="159.2" cy="677.1" r="1.65" fill="#cdc8c4"/>
<circle cx="160" cy="680.1" r="1.65" fill="#cdc8c4"/>
<circle cx="162.2" cy="678.4" r="1.65" fill="#cdc8c4"/>
<circle cx="163.5" cy="671.8" r="1.65" fill="#cdc8c4"/>
<circle cx="166.9" cy="675.3" r="1.65" fill="#cdc8c4"/>
<circle cx="175.6" cy="676.2" r="1.65" fill="#cdc8c4"/>
<circle cx="179.3" cy="678.8" r="1.65" fill="#cdc8c4"/>
<circle cx="181.8" cy="677.5" r="1.65" fill="#cdc8c4"/>
<circle cx="170.1" cy="685.2" r="1.65" fill="#cdc8c4"/>
<circle cx="136" cy="682.3" r="1.65" fill="#cdc8c4"/>
<circle cx="143.4" cy="684.1" r="1.65" fill="#cdc8c4"/>
<circle cx="146" cy="683.6" r="1.65" fill="#cdc8c4"/>
<circle cx="148.6" cy="682.3" r="1.65" fill="#cdc8c4"/>
<circle cx="152.2" cy="683.2" r="1.65" fill="#cdc8c4"/>
<circle cx="150.8" cy="688" r="1.65" fill="#cdc8c4"/>
<circle cx="152.2" cy="689.3" r="1.65" fill="#cdc8c4"/>
<circle cx="146.9" cy="686.3" r="1.65" fill="#cdc8c4"/>
<circle cx="125.4" cy="682.8" r="1.65" fill="#cdc8c4"/>
<circle cx="125.4" cy="689.3" r="1.65" fill="#cdc8c4"/>
<circle cx="133.8" cy="689.8" r="1.65" fill="#cdc8c4"/>
<circle cx="136.4" cy="686.3" r="1.65" fill="#cdc8c4"/>
<circle cx="139" cy="688.9" r="1.65" fill="#cdc8c4"/>
<circle cx="143.4" cy="692.4" r="1.65" fill="#cdc8c4"/>
<circle cx="141.6" cy="697.7" r="1.65" fill="#cdc8c4"/>
<circle cx="138.1" cy="695" r="1.65" fill="#cdc8c4"/>
<circle cx="134.6" cy="694.2" r="1.65" fill="#cdc8c4"/>
<circle cx="137.3" cy="700.3" r="1.65" fill="#cdc8c4"/>
<circle cx="132.9" cy="701.2" r="1.65" fill="#cdc8c4"/>
<circle cx="130.3" cy="702.9" r="1.65" fill="#cdc8c4"/>
<circle cx="126.8" cy="699.4" r="1.65" fill="#cdc8c4"/>
<circle cx="126.8" cy="695" r="1.65" fill="#cdc8c4"/>
<circle cx="218" cy="680.3" r="1.65" fill="#cdc8c4"/>
<circle cx="213.8" cy="677.5" r="1.65" fill="#cdc8c4"/>
<circle cx="208.2" cy="678.6" r="1.65" fill="#cdc8c4"/>
<circle cx="202.2" cy="678.6" r="1.65" fill="#cdc8c4"/>
<circle cx="197" cy="675.8" r="1.65" fill="#cdc8c4"/>
<circle cx="189.2" cy="688.7" r="1.65" fill="#cdc8c4"/>
<circle cx="181.2" cy="675.8" r="1.65" fill="#cdc8c4"/>
<circle cx="174.2" cy="675.8" r="1.65" fill="#cdc8c4"/>
<circle cx="170" cy="685.2" r="1.65" fill="#cdc8c4"/>
<circle cx="186" cy="679" r="1.65" fill="#cdc8c4"/>
<circle cx="180" cy="678" r="1.65" fill="#cdc8c4"/>
<circle cx="158" cy="672" r="1.65" fill="#cdc8c4"/>
<circle cx="154" cy="678" r="1.65" fill="#cdc8c4"/>
<circle cx="140" cy="674" r="1.65" fill="#cdc8c4"/>
<circle cx="142" cy="680" r="1.65" fill="#cdc8c4"/>
<circle cx="137" cy="685" r="1.65" fill="#cdc8c4"/>
<circle cx="134" cy="688" r="1.65" fill="#cdc8c4"/>
<circle cx="120" cy="671" r="1.65" fill="#cdc8c4"/>
<circle cx="123" cy="669" r="1.65" fill="#cdc8c4"/>
<circle cx="119.4" cy="696.9" r="1.65" fill="#cdc8c4"/>
<circle cx="114.5" cy="669.8" r="1.65" fill="#cdc8c4"/>
<circle cx="121.2" cy="679.8" r="1.65" fill="#cdc8c4"/>
<circle cx="112.4" cy="692.1" r="1.65" fill="#cdc8c4"/>
<circle cx="113.1" cy="695.7" r="1.65" fill="#cdc8c4"/>
<circle cx="124.7" cy="697.6" r="1.65" fill="#cdc8c4"/>
<circle cx="125.4" cy="695.1" r="1.65" fill="#cdc8c4"/>
<circle cx="117.0" cy="698.1" r="1.65" fill="#cdc8c4"/>
<circle cx="110.0" cy="691.1" r="1.65" fill="#cdc8c4"/>
<circle cx="117.8" cy="678.8" r="1.65" fill="#cdc8c4"/>
<circle cx="118.0" cy="691.5" r="1.65" fill="#cdc8c4"/>
<circle cx="113.1" cy="695.2" r="1.65" fill="#cdc8c4"/>
<circle cx="115.7" cy="670.4" r="1.65" fill="#cdc8c4"/>
<circle cx="122.4" cy="682.7" r="1.65" fill="#cdc8c4"/>
<circle cx="108.8" cy="692.6" r="1.65" fill="#cdc8c4"/>
<circle cx="122.2" cy="671.7" r="1.65" fill="#cdc8c4"/>
<circle cx="116.0" cy="685.4" r="1.65" fill="#cdc8c4"/>
<circle cx="123.6" cy="698.6" r="1.65" fill="#cdc8c4"/>
<circle cx="119.9" cy="685.1" r="1.65" fill="#cdc8c4"/>
<circle cx="114.7" cy="678.4" r="1.65" fill="#cdc8c4"/>
<circle cx="117.9" cy="673.0" r="1.65" fill="#cdc8c4"/>
<circle cx="124.8" cy="675.9" r="1.65" fill="#cdc8c4"/>
<circle cx="122.3" cy="691.8" r="1.65" fill="#cdc8c4"/>
<circle cx="121.8" cy="699.2" r="1.65" fill="#cdc8c4"/>
<circle cx="118.3" cy="693.1" r="1.65" fill="#cdc8c4"/>
<circle cx="115.6" cy="694.3" r="1.65" fill="#cdc8c4"/>
<circle cx="123.3" cy="680.3" r="1.65" fill="#cdc8c4"/>
<circle cx="112.7" cy="675.0" r="1.65" fill="#cdc8c4"/>
<circle cx="123.1" cy="676.3" r="1.65" fill="#cdc8c4"/>
<circle cx="124.7" cy="691.2" r="1.65" fill="#cdc8c4"/>
<circle cx="127.9" cy="699.3" r="1.65" fill="#cdc8c4"/>
<circle cx="125.7" cy="701.4" r="1.65" fill="#cdc8c4"/>
<circle cx="120.1" cy="671.1" r="1.65" fill="#cdc8c4"/>
<circle cx="115.3" cy="696.8" r="1.65" fill="#cdc8c4"/>
<circle cx="122.9" cy="683.9" r="1.65" fill="#cdc8c4"/>
<circle cx="116.3" cy="683.0" r="1.65" fill="#cdc8c4"/>
<circle cx="121.5" cy="686.1" r="1.65" fill="#cdc8c4"/>
<circle cx="109.5" cy="691.6" r="1.65" fill="#cdc8c4"/>
<circle cx="125.0" cy="693.0" r="1.65" fill="#cdc8c4"/>
<circle cx="117.2" cy="691.5" r="1.65" fill="#cdc8c4"/>
<circle cx="119.2" cy="669.1" r="1.65" fill="#cdc8c4"/>
<circle cx="122.3" cy="685.5" r="1.65" fill="#cdc8c4"/>
<circle cx="125.8" cy="682.9" r="1.65" fill="#cdc8c4"/>
<circle cx="113.9" cy="687.0" r="1.65" fill="#cdc8c4"/>
<circle cx="123.4" cy="689.4" r="1.65" fill="#cdc8c4"/>
<circle cx="113.7" cy="674.9" r="1.65" fill="#cdc8c4"/>
<circle cx="124.6" cy="685.5" r="1.65" fill="#cdc8c4"/>
<circle cx="111.0" cy="685.9" r="1.65" fill="#cdc8c4"/>
<circle cx="118.8" cy="693.2" r="1.65" fill="#cdc8c4"/>
<circle cx="118.8" cy="688.2" r="1.65" fill="#cdc8c4"/>
<circle cx="113.9" cy="683.5" r="1.65" fill="#cdc8c4"/>
<circle cx="124.6" cy="688.6" r="1.65" fill="#cdc8c4"/>
<circle cx="127.8" cy="699.9" r="1.65" fill="#cdc8c4"/>
<circle cx="121.5" cy="697.7" r="1.65" fill="#cdc8c4"/>
<circle cx="115.3" cy="689.7" r="1.65" fill="#cdc8c4"/>
<circle cx="120.7" cy="671.3" r="1.65" fill="#cdc8c4"/>
<circle cx="117.2" cy="685.1" r="1.65" fill="#cdc8c4"/>
<circle cx="123.6" cy="682.8" r="1.65" fill="#cdc8c4"/>
<circle cx="122.1" cy="673.6" r="1.65" fill="#cdc8c4"/>
<circle cx="116.2" cy="669.1" r="1.65" fill="#cdc8c4"/>
<circle cx="123.7" cy="693.8" r="1.65" fill="#cdc8c4"/>
<circle cx="119.6" cy="688.3" r="1.65" fill="#cdc8c4"/>
<circle cx="118.2" cy="699.9" r="1.65" fill="#cdc8c4"/>
<circle cx="119.4" cy="691.2" r="1.65" fill="#cdc8c4"/>
<circle cx="118.8" cy="668.5" r="1.65" fill="#cdc8c4"/>
<circle cx="119.4" cy="691.7" r="1.65" fill="#cdc8c4"/>
<circle cx="112.1" cy="687.0" r="1.65" fill="#cdc8c4"/>
<circle cx="123.7" cy="679.9" r="1.65" fill="#cdc8c4"/>
<circle cx="122.2" cy="671.3" r="1.65" fill="#cdc8c4"/>
<circle cx="118.2" cy="685.6" r="1.65" fill="#cdc8c4"/>
<circle cx="113.5" cy="682.3" r="1.65" fill="#cdc8c4"/>
<circle cx="119.0" cy="687.1" r="1.65" fill="#cdc8c4"/>
<circle cx="111.9" cy="693.0" r="1.65" fill="#cdc8c4"/>
<circle cx="119.3" cy="695.2" r="1.65" fill="#cdc8c4"/>
<circle cx="113.5" cy="683.4" r="1.65" fill="#cdc8c4"/>
<circle cx="118.1" cy="670.8" r="1.65" fill="#cdc8c4"/>
<circle cx="113.9" cy="673.7" r="1.65" fill="#cdc8c4"/>
<circle cx="116.9" cy="676.3" r="1.65" fill="#cdc8c4"/>
<circle cx="116.2" cy="683.1" r="1.65" fill="#cdc8c4"/>
<circle cx="116.6" cy="690.1" r="1.65" fill="#cdc8c4"/>
<circle cx="118.0" cy="689.0" r="1.65" fill="#cdc8c4"/>
<circle cx="127.9" cy="700.9" r="1.65" fill="#cdc8c4"/>
<circle cx="116.5" cy="693.3" r="1.65" fill="#cdc8c4"/>
<circle cx="129.8" cy="700.5" r="1.65" fill="#cdc8c4"/>
<circle cx="122.1" cy="696.1" r="1.65" fill="#cdc8c4"/>
<circle cx="121.9" cy="694.7" r="1.65" fill="#cdc8c4"/>
<circle cx="127.3" cy="693.6" r="1.65" fill="#cdc8c4"/>
<circle cx="114.0" cy="696.9" r="1.65" fill="#cdc8c4"/>
<circle cx="115.2" cy="682.4" r="1.65" fill="#cdc8c4"/>
<circle cx="110.4" cy="694.6" r="1.65" fill="#cdc8c4"/>
<circle cx="125.1" cy="677.9" r="1.65" fill="#cdc8c4"/>
<circle cx="119.0" cy="671.2" r="1.65" fill="#cdc8c4"/>
<circle cx="112.4" cy="690.6" r="1.65" fill="#cdc8c4"/>
<circle cx="115.3" cy="675.5" r="1.65" fill="#cdc8c4"/>
<circle cx="124.4" cy="695.5" r="1.65" fill="#cdc8c4"/>
<circle cx="121.2" cy="699.3" r="1.65" fill="#cdc8c4"/>
<circle cx="120.0" cy="693.3" r="1.65" fill="#cdc8c4"/>
<circle cx="117.3" cy="692.6" r="1.65" fill="#cdc8c4"/>
<circle cx="126.9" cy="698.8" r="1.65" fill="#cdc8c4"/>
<circle cx="122.6" cy="684.5" r="1.65" fill="#cdc8c4"/>
<circle cx="136.0" cy="691.8" r="1.65" fill="#cdc8c4"/>
<circle cx="137.8" cy="695.7" r="1.65" fill="#cdc8c4"/>
<circle cx="139.3" cy="690.3" r="1.65" fill="#cdc8c4"/>
<circle cx="140.0" cy="689.4" r="1.65" fill="#cdc8c4"/>
<circle cx="132.8" cy="695.4" r="1.65" fill="#cdc8c4"/>
<circle cx="131.4" cy="701.3" r="1.65" fill="#cdc8c4"/>
<circle cx="140.3" cy="699.3" r="1.65" fill="#cdc8c4"/>
<circle cx="132.1" cy="702.1" r="1.65" fill="#cdc8c4"/>
<circle cx="135.2" cy="695.4" r="1.65" fill="#cdc8c4"/>
<circle cx="129.4" cy="690.4" r="1.65" fill="#cdc8c4"/>
<circle cx="138.5" cy="692.1" r="1.65" fill="#cdc8c4"/>
<circle cx="138.3" cy="685.9" r="1.65" fill="#cdc8c4"/>
<circle cx="141.3" cy="689.9" r="1.65" fill="#cdc8c4"/>
<circle cx="128.6" cy="700.2" r="1.65" fill="#cdc8c4"/>
<circle cx="135.6" cy="700.4" r="1.65" fill="#cdc8c4"/>
<circle cx="132.9" cy="686.4" r="1.65" fill="#cdc8c4"/>
<circle cx="135.9" cy="686.8" r="1.65" fill="#cdc8c4"/>
<circle cx="125.3" cy="695.3" r="1.65" fill="#cdc8c4"/>
<circle cx="132.3" cy="696.5" r="1.65" fill="#cdc8c4"/>
<circle cx="142.8" cy="690.2" r="1.65" fill="#cdc8c4"/>
<circle cx="134.8" cy="682.5" r="1.65" fill="#cdc8c4"/>
<circle cx="130.1" cy="693.6" r="1.65" fill="#cdc8c4"/>
<circle cx="141.7" cy="692.8" r="1.65" fill="#cdc8c4"/>
<circle cx="135.8" cy="694.5" r="1.65" fill="#cdc8c4"/>
<circle cx="130.8" cy="691.5" r="1.65" fill="#cdc8c4"/>
<circle cx="133.8" cy="699.5" r="1.65" fill="#cdc8c4"/>
<circle cx="129.5" cy="698.4" r="1.65" fill="#cdc8c4"/>
<circle cx="129.6" cy="697.4" r="1.65" fill="#cdc8c4"/>
<circle cx="136.5" cy="683.4" r="1.65" fill="#cdc8c4"/>
<circle cx="131.6" cy="696.0" r="1.65" fill="#cdc8c4"/>
<circle cx="141.3" cy="686.9" r="1.65" fill="#cdc8c4"/>
<circle cx="136.4" cy="685.6" r="1.65" fill="#cdc8c4"/>
<circle cx="133.9" cy="702.8" r="1.65" fill="#cdc8c4"/>
<circle cx="136.3" cy="687.0" r="1.65" fill="#cdc8c4"/>
<circle cx="134.5" cy="699.1" r="1.65" fill="#cdc8c4"/>
<circle cx="138.6" cy="699.0" r="1.65" fill="#cdc8c4"/>
<circle cx="126.7" cy="695.9" r="1.65" fill="#cdc8c4"/>
<circle cx="134.9" cy="699.3" r="1.65" fill="#cdc8c4"/>
<circle cx="141.1" cy="686.0" r="1.65" fill="#cdc8c4"/>
<circle cx="125.2" cy="699.5" r="1.65" fill="#cdc8c4"/>
<circle cx="104.1" cy="679.9" r="1.65" fill="#cdc8c4"/>
<circle cx="106.5" cy="679.7" r="1.65" fill="#cdc8c4"/>
<circle cx="105.3" cy="692.5" r="1.65" fill="#cdc8c4"/>
<circle cx="98.4" cy="679.7" r="1.65" fill="#cdc8c4"/>
<circle cx="98.3" cy="677.6" r="1.65" fill="#cdc8c4"/>
<circle cx="95.5" cy="676.1" r="1.65" fill="#cdc8c4"/>
<circle cx="107.5" cy="693.7" r="1.65" fill="#cdc8c4"/>
<circle cx="105.2" cy="689.4" r="1.65" fill="#cdc8c4"/>
<circle cx="105.0" cy="686.6" r="1.65" fill="#cdc8c4"/>
<circle cx="94.0" cy="679.1" r="1.65" fill="#cdc8c4"/>
<circle cx="100.9" cy="683.1" r="1.65" fill="#cdc8c4"/>
<circle cx="96.0" cy="676.8" r="1.65" fill="#cdc8c4"/>
<circle cx="105.6" cy="673.3" r="1.65" fill="#cdc8c4"/>
<circle cx="106.1" cy="685.0" r="1.65" fill="#cdc8c4"/>
<circle cx="101.3" cy="691.2" r="1.65" fill="#cdc8c4"/>
<circle cx="97.9" cy="685.8" r="1.65" fill="#cdc8c4"/>
<circle cx="107.2" cy="677.8" r="1.65" fill="#cdc8c4"/>
<circle cx="97.1" cy="688.8" r="1.65" fill="#cdc8c4"/>
<circle cx="99.2" cy="681.3" r="1.65" fill="#cdc8c4"/>
<circle cx="98.1" cy="690.0" r="1.65" fill="#cdc8c4"/>
<circle cx="109.7" cy="693.6" r="1.65" fill="#cdc8c4"/>
<circle cx="104.5" cy="692.0" r="1.65" fill="#cdc8c4"/>
<circle cx="106.7" cy="673.0" r="1.65" fill="#cdc8c4"/>
<circle cx="98.8" cy="680.3" r="1.65" fill="#cdc8c4"/>
<circle cx="106.3" cy="676.8" r="1.65" fill="#cdc8c4"/>
<circle cx="108.6" cy="691.4" r="1.65" fill="#cdc8c4"/>
<circle cx="104.2" cy="689.0" r="1.65" fill="#cdc8c4"/>
<circle cx="101.5" cy="690.6" r="1.65" fill="#cdc8c4"/>
<circle cx="97.1" cy="681.6" r="1.65" fill="#cdc8c4"/>
<circle cx="108.5" cy="678.3" r="1.65" fill="#cdc8c4"/>
<circle cx="104.4" cy="693.7" r="1.65" fill="#cdc8c4"/>
<circle cx="111.1" cy="691.6" r="1.65" fill="#cdc8c4"/>
<circle cx="108.1" cy="674.9" r="1.65" fill="#cdc8c4"/>
<circle cx="102.7" cy="675.0" r="1.65" fill="#cdc8c4"/>
<circle cx="103.1" cy="690.9" r="1.65" fill="#cdc8c4"/>
<circle cx="127.4" cy="700.4" r="1.65" fill="#cdc8c4"/>
<circle cx="127.4" cy="704.4" r="1.65" fill="#cdc8c4"/>
<circle cx="128.4" cy="699.5" r="1.65" fill="#cdc8c4"/>
<circle cx="128.5" cy="704.5" r="1.65" fill="#cdc8c4"/>
<circle cx="126.6" cy="703.1" r="1.65" fill="#cdc8c4"/>
<circle cx="132.4" cy="698.7" r="1.65" fill="#cdc8c4"/>
<circle cx="127.2" cy="698.1" r="1.65" fill="#cdc8c4"/>
<circle cx="128.6" cy="702.1" r="1.65" fill="#cdc8c4"/>
<circle cx="130.8" cy="703.6" r="1.65" fill="#cdc8c4"/>
<circle cx="131.0" cy="700.1" r="1.65" fill="#cdc8c4"/>
<circle cx="127.5" cy="703.6" r="1.65" fill="#cdc8c4"/>
<circle cx="127.7" cy="697.2" r="1.65" fill="#cdc8c4"/>
<circle cx="133.7" cy="698.0" r="1.65" fill="#cdc8c4"/>
<circle cx="126.1" cy="702.9" r="1.65" fill="#cdc8c4"/>
<circle cx="133.1" cy="700.2" r="1.65" fill="#cdc8c4"/>
<circle cx="119" cy="657.4" r="1.65" fill="#a9d9de"/>
<circle cx="119" cy="660" r="1.65" fill="#a9d9de"/>
<circle cx="118.8" cy="665.4" r="1.65" fill="#a9d9de"/>
<circle cx="119.4" cy="666.7" r="1.65" fill="#a9d9de"/>
<circle cx="142" cy="638.2" r="1.65" fill="#f1a9ab"/>
<circle cx="139" cy="655.4" r="1.65" fill="#f1a9ab"/>
<circle cx="116.3" cy="602.2" r="1.65" fill="#3f4796"/>
<circle cx="104.5" cy="605.1" r="1.65" fill="#3f4796"/>
<circle cx="105.7" cy="606.6" r="1.65" fill="#3f4796"/>
<circle cx="101.6" cy="622.2" r="1.65" fill="#3f4796"/>
<circle cx="98.7" cy="626.1" r="1.65" fill="#3f4796"/>
<circle cx="110.2" cy="629.9" r="1.65" fill="#3f4796"/>
<circle cx="104.8" cy="642.3" r="1.65" fill="#3f4796"/>
<circle cx="89.6" cy="645.1" r="1.65" fill="#3f4796"/>
<circle cx="95.2" cy="646.2" r="1.65" fill="#3f4796"/>
<circle cx="98.7" cy="647.4" r="1.65" fill="#3f4796"/>
<circle cx="99.3" cy="648.4" r="1.65" fill="#3f4796"/>
<circle cx="98.4" cy="648.9" r="1.65" fill="#3f4796"/>
<circle cx="107.2" cy="644.9" r="1.65" fill="#3f4796"/>
<circle cx="108.9" cy="645.4" r="1.65" fill="#3f4796"/>
<circle cx="109.8" cy="646.7" r="1.65" fill="#3f4796"/>
<circle cx="113.7" cy="647.4" r="1.65" fill="#3f4796"/>
<circle cx="116.6" cy="648.3" r="1.65" fill="#3f4796"/>
<circle cx="110.5" cy="650" r="1.65" fill="#3f4796"/>
<circle cx="114.2" cy="651.1" r="1.65" fill="#3f4796"/>
<circle cx="116.8" cy="651.1" r="1.65" fill="#3f4796"/>
<circle cx="113.7" cy="652.4" r="1.65" fill="#3f4796"/>
<circle cx="112.4" cy="654.1" r="1.65" fill="#3f4796"/>
<circle cx="73.1" cy="651.6" r="1.65" fill="#3f4796"/>
<circle cx="111" cy="656.5" r="1.65" fill="#3f4796"/>
<circle cx="106.5" cy="657.8" r="1.65" fill="#3f4796"/>
<circle cx="109.2" cy="658.7" r="1.65" fill="#3f4796"/>
<circle cx="93.3" cy="657.4" r="1.65" fill="#3f4796"/>
<circle cx="117.2" cy="658.5" r="1.65" fill="#3f4796"/>
<circle cx="101.2" cy="661.4" r="1.65" fill="#3f4796"/>
<circle cx="109.2" cy="661.8" r="1.65" fill="#3f4796"/>
<circle cx="112.7" cy="660.9" r="1.65" fill="#3f4796"/>
<circle cx="114.5" cy="662.7" r="1.65" fill="#3f4796"/>
<circle cx="115.9" cy="662.3" r="1.65" fill="#3f4796"/>
<circle cx="103.4" cy="665.4" r="1.65" fill="#3f4796"/>
<circle cx="106.1" cy="665.8" r="1.65" fill="#3f4796"/>
<circle cx="100.7" cy="668.9" r="1.65" fill="#3f4796"/>
<circle cx="107.8" cy="668.9" r="1.65" fill="#3f4796"/>
<circle cx="112.3" cy="667.6" r="1.65" fill="#3f4796"/>
<circle cx="114.5" cy="668.9" r="1.65" fill="#3f4796"/>
<circle cx="111.5" cy="652.5" r="1.65" fill="#3f4796"/>
<circle cx="108" cy="650.5" r="1.65" fill="#3f4796"/>
<circle cx="104" cy="647" r="1.65" fill="#3f4796"/>
<circle cx="115" cy="655.5" r="1.65" fill="#3f4796"/>
<circle cx="110" cy="664" r="1.65" fill="#3f4796"/>
<circle cx="103" cy="668" r="1.65" fill="#3f4796"/>
<circle cx="97.8" cy="648" r="1.65" fill="#3f4796"/>
<circle cx="178.4" cy="589.6" r="1.65" fill="#e23030"/>
<circle cx="196" cy="603.6" r="1.65" fill="#e23030"/>
<circle cx="186" cy="606" r="1.65" fill="#e23030"/>
<circle cx="174.4" cy="606.4" r="1.65" fill="#e23030"/>
<circle cx="166.6" cy="608" r="1.65" fill="#e23030"/>
<circle cx="154.4" cy="611.4" r="1.65" fill="#e23030"/>
<circle cx="152.4" cy="616.4" r="1.65" fill="#e23030"/>
<circle cx="143.6" cy="618.2" r="1.65" fill="#e23030"/>
<circle cx="161" cy="618.4" r="1.65" fill="#e23030"/>
<circle cx="165" cy="617" r="1.65" fill="#e23030"/>
<circle cx="166.6" cy="621" r="1.65" fill="#e23030"/>
<circle cx="178.4" cy="631.4" r="1.65" fill="#e23030"/>
<circle cx="197.4" cy="633.6" r="1.65" fill="#e23030"/>
<circle cx="165.6" cy="634.4" r="1.65" fill="#e23030"/>
<circle cx="169.6" cy="637.2" r="1.65" fill="#e23030"/>
<circle cx="157" cy="643" r="1.65" fill="#e23030"/>
<circle cx="153.6" cy="647" r="1.65" fill="#e23030"/>
<circle cx="159" cy="652" r="1.65" fill="#e23030"/>
<circle cx="160.6" cy="652.4" r="1.65" fill="#e23030"/>
<circle cx="162.6" cy="652" r="1.65" fill="#e23030"/>
<circle cx="205.4" cy="652" r="1.65" fill="#e23030"/>
<circle cx="148.4" cy="655" r="1.65" fill="#e23030"/>
<circle cx="149.6" cy="654" r="1.65" fill="#e23030"/>
<circle cx="152.6" cy="656.6" r="1.65" fill="#e23030"/>
<circle cx="164.4" cy="660" r="1.65" fill="#e23030"/>
<circle cx="160" cy="663" r="1.65" fill="#e23030"/>
<circle cx="156.4" cy="665" r="1.65" fill="#e23030"/>
<circle cx="181.6" cy="661.6" r="1.65" fill="#e23030"/>
<circle cx="180" cy="664" r="1.65" fill="#e23030"/>
<circle cx="179" cy="665.4" r="1.65" fill="#e23030"/>
<circle cx="159.6" cy="667.4" r="1.65" fill="#e23030"/>
<circle cx="150" cy="667.6" r="1.65" fill="#e23030"/>
<circle cx="196" cy="668.4" r="1.65" fill="#e23030"/>
<line x1="28.7" y1="584" x2="28.7" y2="705.8" stroke="#a8a29e" stroke-width="1.3"/>
<line x1="28.1" y1="705.2" x2="231" y2="705.2" stroke="#5e5955" stroke-width="1.3"/>
<line x1="26.7" y1="705.6" x2="28.7" y2="705.6" stroke="#a8a29e" stroke-width="1"/>
<text transform="translate(25.8 709.89) scale(1 1.15)" font-size="11" text-anchor="end" fill="#1c1a18">0</text>
<line x1="26.7" y1="678.0" x2="28.7" y2="678.0" stroke="#a8a29e" stroke-width="1"/>
<text transform="translate(25.8 682.29) scale(1 1.15)" font-size="11" text-anchor="end" fill="#1c1a18">1</text>
<line x1="26.7" y1="650.4" x2="28.7" y2="650.4" stroke="#a8a29e" stroke-width="1"/>
<text transform="translate(25.8 654.69) scale(1 1.15)" font-size="11" text-anchor="end" fill="#1c1a18">2</text>
<line x1="26.7" y1="622.8" x2="28.7" y2="622.8" stroke="#a8a29e" stroke-width="1"/>
<text transform="translate(25.8 627.09) scale(1 1.15)" font-size="11" text-anchor="end" fill="#1c1a18">3</text>
<line x1="26.7" y1="595.2" x2="28.7" y2="595.2" stroke="#a8a29e" stroke-width="1"/>
<text transform="translate(25.8 599.49) scale(1 1.15)" font-size="11" text-anchor="end" fill="#1c1a18">4</text>
<line x1="70.15" y1="705.2" x2="70.15" y2="707.2" stroke="#5e5955" stroke-width="1"/>
<text transform="translate(70.15 718.5) scale(1 1.15)" font-size="11" text-anchor="middle" fill="#1c1a18">-5</text>
<line x1="129.8" y1="705.2" x2="129.8" y2="707.2" stroke="#5e5955" stroke-width="1"/>
<text transform="translate(129.8 718.5) scale(1 1.15)" font-size="11" text-anchor="middle" fill="#1c1a18">0</text>
<line x1="189.45" y1="705.2" x2="189.45" y2="707.2" stroke="#5e5955" stroke-width="1"/>
<text transform="translate(189.45 718.5) scale(1 1.15)" font-size="11" text-anchor="middle" fill="#1c1a18">5</text>
<text transform="translate(18 562) scale(1 1.1)" font-size="17.5" text-anchor="start" fill="#1c1a18">E</text>
<text transform="translate(70 573) scale(1 1.15)" font-size="11.5" text-anchor="start" fill="#1c1a18">PR-AKI vs Normal (negative)</text>
<text transform="translate(42.4 597.1) scale(1 1.15)" font-size="11.4" text-anchor="start" fill="#1c1a18">Down (51)</text>
<text transform="translate(198 597.1) scale(1 1.15)" font-size="11.4" text-anchor="start" fill="#1c1a18">Up (35)</text>
<text transform="translate(12.5 641) rotate(-90) scale(1 0.95)" font-size="13" text-anchor="middle" fill="#1c1a18">-Lg(p)</text>
<text transform="translate(84.1 733.6) scale(1 1.15)" font-size="11.1" text-anchor="start" fill="#1c1a18">Log<tspan font-size="5.6" dx="1.3" dy="0.3">2</tspan><tspan dx="1.3" dy="-0.3">(Fold Change)</tspan></text>
<circle cx="242.7" cy="608.5" r="3.8" fill="#cdc8c4"/>
<text transform="translate(251 612.2) scale(1 1.15)" font-size="11" text-anchor="start" fill="#1c1a18">Insignificant change</text>
<circle cx="242.7" cy="620.5" r="3.8" fill="#a9d9de"/>
<text transform="translate(251 624.2) scale(1 1.15)" font-size="11" text-anchor="start" fill="#1c1a18">-1 &lt; Log<tspan font-size="5.4" dx="1.4" dy="0.5">2</tspan><tspan dx="1.3" dy="-0.5">(FC) &lt; 0</tspan></text>
<circle cx="242.7" cy="632.1" r="3.8" fill="#3f4796"/>
<text transform="translate(251 635.8) scale(1 1.15)" font-size="11" text-anchor="start" fill="#1c1a18">Log<tspan font-size="5.4" dx="1.4" dy="0.5">2</tspan><tspan dx="1.3" dy="-0.5">(FC) &lt; -1</tspan></text>
<circle cx="242.7" cy="643.9" r="3.8" fill="#f1a9ab"/>
<text transform="translate(251 647.6) scale(1 1.15)" font-size="11" text-anchor="start" fill="#1c1a18">0 &lt; Log<tspan font-size="5.4" dx="1.4" dy="0.5">2</tspan><tspan dx="1.3" dy="-0.5">(FC) &lt; 1</tspan></text>
<circle cx="242.7" cy="656" r="3.8" fill="#e23030"/>
<text transform="translate(251 659.7) scale(1 1.15)" font-size="11" text-anchor="start" fill="#1c1a18">Log<tspan font-size="5.4" dx="1.4" dy="0.5">2</tspan><tspan dx="1.3" dy="-0.5">(FC) &gt; 1</tspan></text>
<line x1="487" y1="577" x2="487" y2="707.9" stroke="#e8e0dd" stroke-width="1" stroke-dasharray="1.5 2"/>
<line x1="499.4" y1="577" x2="499.4" y2="707.9" stroke="#e8e0dd" stroke-width="1" stroke-dasharray="1.5 2"/>
<line x1="393.5" y1="643.21" x2="593" y2="643.21" stroke="#e4dedb" stroke-width="1" stroke-dasharray="1.5 2"/>
<circle cx="490.1" cy="638.3" r="1.65" fill="#cdc8c4"/>
<circle cx="483.1" cy="647.7" r="1.65" fill="#cdc8c4"/>
<circle cx="470.4" cy="648.4" r="1.65" fill="#cdc8c4"/>
<circle cx="479.2" cy="650.5" r="1.65" fill="#cdc8c4"/>
<circle cx="481" cy="652.3" r="1.65" fill="#cdc8c4"/>
<circle cx="485.3" cy="652.3" r="1.65" fill="#cdc8c4"/>
<circle cx="478.8" cy="657.4" r="1.65" fill="#cdc8c4"/>
<circle cx="484" cy="657.4" r="1.65" fill="#cdc8c4"/>
<circle cx="501.5" cy="646.9" r="1.65" fill="#cdc8c4"/>
<circle cx="498.9" cy="651.4" r="1.65" fill="#cdc8c4"/>
<circle cx="496.3" cy="655.8" r="1.65" fill="#cdc8c4"/>
<circle cx="499.8" cy="656.1" r="1.65" fill="#cdc8c4"/>
<circle cx="505.9" cy="655.4" r="1.65" fill="#cdc8c4"/>
<circle cx="508.1" cy="656.2" r="1.65" fill="#cdc8c4"/>
<circle cx="508.5" cy="651.4" r="1.65" fill="#cdc8c4"/>
<circle cx="510.3" cy="650.5" r="1.65" fill="#cdc8c4"/>
<circle cx="515.1" cy="652.3" r="1.65" fill="#cdc8c4"/>
<circle cx="518.2" cy="653.4" r="1.65" fill="#cdc8c4"/>
<circle cx="550.4" cy="643.6" r="1.65" fill="#cdc8c4"/>
<circle cx="571" cy="672" r="1.65" fill="#cdc8c4"/>
<circle cx="551.4" cy="680.6" r="1.65" fill="#cdc8c4"/>
<circle cx="406.9" cy="662.3" r="1.65" fill="#cdc8c4"/>
<circle cx="443.6" cy="664.9" r="1.65" fill="#cdc8c4"/>
<circle cx="450.5" cy="667.2" r="1.65" fill="#cdc8c4"/>
<circle cx="455.4" cy="664.2" r="1.65" fill="#cdc8c4"/>
<circle cx="459.5" cy="662.3" r="1.65" fill="#cdc8c4"/>
<circle cx="459.5" cy="664.7" r="1.65" fill="#cdc8c4"/>
<circle cx="426.3" cy="687.2" r="1.65" fill="#cdc8c4"/>
<circle cx="440.4" cy="685.8" r="1.65" fill="#cdc8c4"/>
<circle cx="451" cy="685.5" r="1.65" fill="#cdc8c4"/>
<circle cx="451.9" cy="683.6" r="1.65" fill="#cdc8c4"/>
<circle cx="456.5" cy="681.5" r="1.65" fill="#cdc8c4"/>
<circle cx="456.5" cy="687.9" r="1.65" fill="#cdc8c4"/>
<circle cx="470.1" cy="648.5" r="1.65" fill="#cdc8c4"/>
<circle cx="483.2" cy="647.7" r="1.65" fill="#cdc8c4"/>
<circle cx="478.9" cy="650.4" r="1.65" fill="#cdc8c4"/>
<circle cx="480.7" cy="651.8" r="1.65" fill="#cdc8c4"/>
<circle cx="485.1" cy="652" r="1.65" fill="#cdc8c4"/>
<circle cx="478.5" cy="657.3" r="1.65" fill="#cdc8c4"/>
<circle cx="484" cy="657" r="1.65" fill="#cdc8c4"/>
<circle cx="484.6" cy="659.7" r="1.65" fill="#cdc8c4"/>
<circle cx="501.5" cy="646.8" r="1.65" fill="#cdc8c4"/>
<circle cx="499" cy="651.3" r="1.65" fill="#cdc8c4"/>
<circle cx="496.4" cy="655.9" r="1.65" fill="#cdc8c4"/>
<circle cx="499.9" cy="655.9" r="1.65" fill="#cdc8c4"/>
<circle cx="505.9" cy="655.3" r="1.65" fill="#cdc8c4"/>
<circle cx="508.1" cy="656.2" r="1.65" fill="#cdc8c4"/>
<circle cx="508.7" cy="651.5" r="1.65" fill="#cdc8c4"/>
<circle cx="510.6" cy="650.7" r="1.65" fill="#cdc8c4"/>
<circle cx="515" cy="652" r="1.65" fill="#cdc8c4"/>
<circle cx="518.3" cy="653.4" r="1.65" fill="#cdc8c4"/>
<circle cx="503.7" cy="662.1" r="1.65" fill="#cdc8c4"/>
<circle cx="505.4" cy="665.7" r="1.65" fill="#cdc8c4"/>
<circle cx="496.6" cy="663.9" r="1.65" fill="#cdc8c4"/>
<circle cx="487.8" cy="663.9" r="1.65" fill="#cdc8c4"/>
<circle cx="483.2" cy="663.9" r="1.65" fill="#cdc8c4"/>
<circle cx="475.8" cy="666.3" r="1.65" fill="#cdc8c4"/>
<circle cx="455.9" cy="663.9" r="1.65" fill="#cdc8c4"/>
<circle cx="460.5" cy="661.7" r="1.65" fill="#cdc8c4"/>
<circle cx="460.7" cy="664.3" r="1.65" fill="#cdc8c4"/>
<circle cx="464.9" cy="666.5" r="1.65" fill="#cdc8c4"/>
<circle cx="467.3" cy="663.2" r="1.65" fill="#cdc8c4"/>
<circle cx="462.1" cy="668.5" r="1.65" fill="#cdc8c4"/>
<circle cx="468.7" cy="671.4" r="1.65" fill="#cdc8c4"/>
<circle cx="481.3" cy="667.4" r="1.65" fill="#cdc8c4"/>
<circle cx="505.4" cy="670.7" r="1.65" fill="#cdc8c4"/>
<circle cx="514.7" cy="675.3" r="1.65" fill="#cdc8c4"/>
<circle cx="508.7" cy="679.4" r="1.65" fill="#cdc8c4"/>
<circle cx="511.4" cy="680" r="1.65" fill="#cdc8c4"/>
<circle cx="491.7" cy="675.6" r="1.65" fill="#cdc8c4"/>
<circle cx="456.6" cy="681.4" r="1.65" fill="#cdc8c4"/>
<circle cx="467" cy="680.5" r="1.65" fill="#cdc8c4"/>
<circle cx="476.4" cy="678.3" r="1.65" fill="#cdc8c4"/>
<circle cx="474.2" cy="681.6" r="1.65" fill="#cdc8c4"/>
<circle cx="456.6" cy="688" r="1.65" fill="#cdc8c4"/>
<circle cx="463.2" cy="686.5" r="1.65" fill="#cdc8c4"/>
<circle cx="462.1" cy="689.8" r="1.65" fill="#cdc8c4"/>
<circle cx="471.6" cy="690.1" r="1.65" fill="#cdc8c4"/>
<circle cx="474.5" cy="687.3" r="1.65" fill="#cdc8c4"/>
<circle cx="512.5" cy="686.9" r="1.65" fill="#cdc8c4"/>
<circle cx="508.7" cy="693.1" r="1.65" fill="#cdc8c4"/>
<circle cx="505.4" cy="690.9" r="1.65" fill="#cdc8c4"/>
<circle cx="503.2" cy="683.2" r="1.65" fill="#cdc8c4"/>
<circle cx="478.5" cy="696.4" r="1.65" fill="#cdc8c4"/>
<circle cx="481.8" cy="698.6" r="1.65" fill="#cdc8c4"/>
<circle cx="440.6" cy="685.5" r="1.65" fill="#cdc8c4"/>
<circle cx="443.4" cy="664.5" r="1.65" fill="#cdc8c4"/>
<circle cx="451" cy="666" r="1.65" fill="#cdc8c4"/>
<circle cx="454.6" cy="663.5" r="1.65" fill="#cdc8c4"/>
<circle cx="460.6" cy="662.8" r="1.65" fill="#cdc8c4"/>
<circle cx="463.4" cy="666.3" r="1.65" fill="#cdc8c4"/>
<circle cx="466.9" cy="663.8" r="1.65" fill="#cdc8c4"/>
<circle cx="451.8" cy="684.8" r="1.65" fill="#cdc8c4"/>
<circle cx="456.4" cy="680.3" r="1.65" fill="#cdc8c4"/>
<circle cx="461.6" cy="685.5" r="1.65" fill="#cdc8c4"/>
<circle cx="462.3" cy="678.5" r="1.65" fill="#cdc8c4"/>
<circle cx="468.6" cy="671.5" r="1.65" fill="#cdc8c4"/>
<circle cx="472.8" cy="681.3" r="1.65" fill="#cdc8c4"/>
<circle cx="475.6" cy="664.5" r="1.65" fill="#cdc8c4"/>
<circle cx="552" cy="680.3" r="1.65" fill="#cdc8c4"/>
<circle cx="571" cy="672.2" r="1.65" fill="#cdc8c4"/>
<circle cx="505.4" cy="650.5" r="1.65" fill="#cdc8c4"/>
<circle cx="510.7" cy="652.3" r="1.65" fill="#cdc8c4"/>
<circle cx="517.7" cy="653.3" r="1.65" fill="#cdc8c4"/>
<circle cx="514.9" cy="675" r="1.65" fill="#cdc8c4"/>
<circle cx="501.5" cy="684.0" r="1.65" fill="#cdc8c4"/>
<circle cx="490.0" cy="687.6" r="1.65" fill="#cdc8c4"/>
<circle cx="500.3" cy="695.3" r="1.65" fill="#cdc8c4"/>
<circle cx="501.5" cy="676.0" r="1.65" fill="#cdc8c4"/>
<circle cx="486.2" cy="681.5" r="1.65" fill="#cdc8c4"/>
<circle cx="502.9" cy="683.5" r="1.65" fill="#cdc8c4"/>
<circle cx="494.8" cy="703.5" r="1.65" fill="#cdc8c4"/>
<circle cx="489.0" cy="679.6" r="1.65" fill="#cdc8c4"/>
<circle cx="485.3" cy="665.2" r="1.65" fill="#cdc8c4"/>
<circle cx="483.4" cy="686.6" r="1.65" fill="#cdc8c4"/>
<circle cx="496.6" cy="672.7" r="1.65" fill="#cdc8c4"/>
<circle cx="479.2" cy="681.8" r="1.65" fill="#cdc8c4"/>
<circle cx="482.8" cy="695.6" r="1.65" fill="#cdc8c4"/>
<circle cx="497.5" cy="678.0" r="1.65" fill="#cdc8c4"/>
<circle cx="479.6" cy="688.5" r="1.65" fill="#cdc8c4"/>
<circle cx="484.2" cy="693.0" r="1.65" fill="#cdc8c4"/>
<circle cx="498.8" cy="676.8" r="1.65" fill="#cdc8c4"/>
<circle cx="498.4" cy="677.4" r="1.65" fill="#cdc8c4"/>
<circle cx="486.0" cy="674.4" r="1.65" fill="#cdc8c4"/>
<circle cx="496.4" cy="686.2" r="1.65" fill="#cdc8c4"/>
<circle cx="503.4" cy="687.2" r="1.65" fill="#cdc8c4"/>
<circle cx="487.1" cy="687.8" r="1.65" fill="#cdc8c4"/>
<circle cx="485.3" cy="698.3" r="1.65" fill="#cdc8c4"/>
<circle cx="496.5" cy="704.2" r="1.65" fill="#cdc8c4"/>
<circle cx="482.1" cy="678.3" r="1.65" fill="#cdc8c4"/>
<circle cx="484.5" cy="671.2" r="1.65" fill="#cdc8c4"/>
<circle cx="481.0" cy="679.5" r="1.65" fill="#cdc8c4"/>
<circle cx="501.0" cy="696.6" r="1.65" fill="#cdc8c4"/>
<circle cx="502.8" cy="692.4" r="1.65" fill="#cdc8c4"/>
<circle cx="481.2" cy="677.9" r="1.65" fill="#cdc8c4"/>
<circle cx="486.6" cy="684.0" r="1.65" fill="#cdc8c4"/>
<circle cx="487.5" cy="684.6" r="1.65" fill="#cdc8c4"/>
<circle cx="484.7" cy="670.1" r="1.65" fill="#cdc8c4"/>
<circle cx="502.4" cy="688.6" r="1.65" fill="#cdc8c4"/>
<circle cx="494.9" cy="699.1" r="1.65" fill="#cdc8c4"/>
<circle cx="483.3" cy="692.8" r="1.65" fill="#cdc8c4"/>
<circle cx="497.8" cy="681.4" r="1.65" fill="#cdc8c4"/>
<circle cx="497.8" cy="671.2" r="1.65" fill="#cdc8c4"/>
<circle cx="492.3" cy="692.5" r="1.65" fill="#cdc8c4"/>
<circle cx="491.8" cy="698.2" r="1.65" fill="#cdc8c4"/>
<circle cx="501.8" cy="676.8" r="1.65" fill="#cdc8c4"/>
<circle cx="487.4" cy="689.6" r="1.65" fill="#cdc8c4"/>
<circle cx="480.8" cy="670.7" r="1.65" fill="#cdc8c4"/>
<circle cx="493.8" cy="689.9" r="1.65" fill="#cdc8c4"/>
<circle cx="479.6" cy="681.6" r="1.65" fill="#cdc8c4"/>
<circle cx="490.4" cy="694.0" r="1.65" fill="#cdc8c4"/>
<circle cx="485.2" cy="686.9" r="1.65" fill="#cdc8c4"/>
<circle cx="490.0" cy="686.3" r="1.65" fill="#cdc8c4"/>
<circle cx="484.3" cy="675.1" r="1.65" fill="#cdc8c4"/>
<circle cx="480.3" cy="669.8" r="1.65" fill="#cdc8c4"/>
<circle cx="482.5" cy="685.6" r="1.65" fill="#cdc8c4"/>
<circle cx="502.7" cy="687.2" r="1.65" fill="#cdc8c4"/>
<circle cx="488.9" cy="699.8" r="1.65" fill="#cdc8c4"/>
<circle cx="496.0" cy="702.4" r="1.65" fill="#cdc8c4"/>
<circle cx="497.5" cy="700.3" r="1.65" fill="#cdc8c4"/>
<circle cx="489.1" cy="696.7" r="1.65" fill="#cdc8c4"/>
<circle cx="486.3" cy="678.7" r="1.65" fill="#cdc8c4"/>
<circle cx="485.4" cy="666.6" r="1.65" fill="#cdc8c4"/>
<circle cx="495.8" cy="685.5" r="1.65" fill="#cdc8c4"/>
<circle cx="495.2" cy="692.6" r="1.65" fill="#cdc8c4"/>
<circle cx="489.2" cy="692.2" r="1.65" fill="#cdc8c4"/>
<circle cx="480.0" cy="675.4" r="1.65" fill="#cdc8c4"/>
<circle cx="497.1" cy="696.5" r="1.65" fill="#cdc8c4"/>
<circle cx="487.8" cy="691.7" r="1.65" fill="#cdc8c4"/>
<circle cx="481.9" cy="668.3" r="1.65" fill="#cdc8c4"/>
<circle cx="484.1" cy="690.4" r="1.65" fill="#cdc8c4"/>
<circle cx="497.1" cy="693.9" r="1.65" fill="#cdc8c4"/>
<circle cx="499.6" cy="698.3" r="1.65" fill="#cdc8c4"/>
<circle cx="497.7" cy="680.8" r="1.65" fill="#cdc8c4"/>
<circle cx="501.2" cy="687.3" r="1.65" fill="#cdc8c4"/>
<circle cx="482.0" cy="676.0" r="1.65" fill="#cdc8c4"/>
<circle cx="480.9" cy="678.0" r="1.65" fill="#cdc8c4"/>
<circle cx="494.1" cy="705.0" r="1.65" fill="#cdc8c4"/>
<circle cx="490.9" cy="698.4" r="1.65" fill="#cdc8c4"/>
<circle cx="502.5" cy="678.7" r="1.65" fill="#cdc8c4"/>
<circle cx="480.2" cy="678.3" r="1.65" fill="#cdc8c4"/>
<circle cx="502.1" cy="689.5" r="1.65" fill="#cdc8c4"/>
<circle cx="498.6" cy="695.1" r="1.65" fill="#cdc8c4"/>
<circle cx="500.6" cy="690.7" r="1.65" fill="#cdc8c4"/>
<circle cx="482.5" cy="666.3" r="1.65" fill="#cdc8c4"/>
<circle cx="480.6" cy="686.7" r="1.65" fill="#cdc8c4"/>
<circle cx="498.0" cy="687.0" r="1.65" fill="#cdc8c4"/>
<circle cx="502.1" cy="679.7" r="1.65" fill="#cdc8c4"/>
<circle cx="491.7" cy="693.9" r="1.65" fill="#cdc8c4"/>
<circle cx="489.3" cy="694.2" r="1.65" fill="#cdc8c4"/>
<circle cx="498.2" cy="697.1" r="1.65" fill="#cdc8c4"/>
<circle cx="502.4" cy="682.4" r="1.65" fill="#cdc8c4"/>
<circle cx="501.4" cy="685.8" r="1.65" fill="#cdc8c4"/>
<circle cx="496.4" cy="696.5" r="1.65" fill="#cdc8c4"/>
<circle cx="499.5" cy="697.5" r="1.65" fill="#cdc8c4"/>
<circle cx="497.6" cy="672.1" r="1.65" fill="#cdc8c4"/>
<circle cx="489.7" cy="685.2" r="1.65" fill="#cdc8c4"/>
<circle cx="485.1" cy="681.7" r="1.65" fill="#cdc8c4"/>
<circle cx="497.9" cy="686.1" r="1.65" fill="#cdc8c4"/>
<circle cx="488.2" cy="685.2" r="1.65" fill="#cdc8c4"/>
<circle cx="483.1" cy="685.3" r="1.65" fill="#cdc8c4"/>
<circle cx="494.3" cy="705.3" r="1.65" fill="#cdc8c4"/>
<circle cx="496.2" cy="695.5" r="1.65" fill="#cdc8c4"/>
<circle cx="499.3" cy="693.9" r="1.65" fill="#cdc8c4"/>
<circle cx="483.8" cy="664.9" r="1.65" fill="#cdc8c4"/>
<circle cx="498.9" cy="672.7" r="1.65" fill="#cdc8c4"/>
<circle cx="500.8" cy="678.0" r="1.65" fill="#cdc8c4"/>
<circle cx="494.9" cy="698.2" r="1.65" fill="#cdc8c4"/>
<circle cx="482.0" cy="670.0" r="1.65" fill="#cdc8c4"/>
<circle cx="490.0" cy="690.7" r="1.65" fill="#cdc8c4"/>
<circle cx="502.9" cy="683.1" r="1.65" fill="#cdc8c4"/>
<circle cx="492.1" cy="699.8" r="1.65" fill="#cdc8c4"/>
<circle cx="497.5" cy="692.0" r="1.65" fill="#cdc8c4"/>
<circle cx="497.0" cy="674.7" r="1.65" fill="#cdc8c4"/>
<circle cx="490.7" cy="704.6" r="1.65" fill="#cdc8c4"/>
<circle cx="482.7" cy="684.2" r="1.65" fill="#cdc8c4"/>
<circle cx="501.2" cy="672.5" r="1.65" fill="#cdc8c4"/>
<circle cx="489.8" cy="702.9" r="1.65" fill="#cdc8c4"/>
<circle cx="490.8" cy="695.1" r="1.65" fill="#cdc8c4"/>
<circle cx="489.1" cy="703.3" r="1.65" fill="#cdc8c4"/>
<circle cx="502.1" cy="688.1" r="1.65" fill="#cdc8c4"/>
<circle cx="479.8" cy="676.7" r="1.65" fill="#cdc8c4"/>
<circle cx="479.8" cy="671.8" r="1.65" fill="#cdc8c4"/>
<circle cx="496.4" cy="698.7" r="1.65" fill="#cdc8c4"/>
<circle cx="498.4" cy="698.7" r="1.65" fill="#cdc8c4"/>
<circle cx="496.3" cy="674.2" r="1.65" fill="#cdc8c4"/>
<circle cx="498.8" cy="673.2" r="1.65" fill="#cdc8c4"/>
<circle cx="497.1" cy="690.8" r="1.65" fill="#cdc8c4"/>
<circle cx="498.9" cy="698.3" r="1.65" fill="#cdc8c4"/>
<circle cx="487.4" cy="687.9" r="1.65" fill="#cdc8c4"/>
<circle cx="480.6" cy="668.0" r="1.65" fill="#cdc8c4"/>
<circle cx="488.2" cy="686.2" r="1.65" fill="#cdc8c4"/>
<circle cx="481.7" cy="684.7" r="1.65" fill="#cdc8c4"/>
<circle cx="489.9" cy="702.6" r="1.65" fill="#cdc8c4"/>
<circle cx="499.4" cy="685.8" r="1.65" fill="#cdc8c4"/>
<circle cx="496.2" cy="701.4" r="1.65" fill="#cdc8c4"/>
<circle cx="485.7" cy="690.2" r="1.65" fill="#cdc8c4"/>
<circle cx="498.5" cy="686.9" r="1.65" fill="#cdc8c4"/>
<circle cx="485.5" cy="673.8" r="1.65" fill="#cdc8c4"/>
<circle cx="495.1" cy="706.2" r="1.65" fill="#cdc8c4"/>
<circle cx="484.5" cy="668.2" r="1.65" fill="#cdc8c4"/>
<circle cx="494.1" cy="689.8" r="1.65" fill="#cdc8c4"/>
<circle cx="496.3" cy="703.1" r="1.65" fill="#cdc8c4"/>
<circle cx="492.3" cy="696.6" r="1.65" fill="#cdc8c4"/>
<circle cx="497.3" cy="680.6" r="1.65" fill="#cdc8c4"/>
<circle cx="503.5" cy="683.8" r="1.65" fill="#cdc8c4"/>
<circle cx="484.7" cy="682.4" r="1.65" fill="#cdc8c4"/>
<circle cx="495.1" cy="680.0" r="1.65" fill="#cdc8c4"/>
<circle cx="482.3" cy="674.4" r="1.65" fill="#cdc8c4"/>
<circle cx="483.2" cy="674.4" r="1.65" fill="#cdc8c4"/>
<circle cx="486.4" cy="673.1" r="1.65" fill="#cdc8c4"/>
<circle cx="479.3" cy="675.3" r="1.65" fill="#cdc8c4"/>
<circle cx="489.0" cy="702.9" r="1.65" fill="#cdc8c4"/>
<circle cx="481.2" cy="679.8" r="1.65" fill="#cdc8c4"/>
<circle cx="486.2" cy="687.4" r="1.65" fill="#cdc8c4"/>
<circle cx="488.1" cy="691.5" r="1.65" fill="#cdc8c4"/>
<circle cx="481.9" cy="668.2" r="1.65" fill="#cdc8c4"/>
<circle cx="499.0" cy="682.2" r="1.65" fill="#cdc8c4"/>
<circle cx="486.3" cy="680.2" r="1.65" fill="#cdc8c4"/>
<circle cx="494.9" cy="681.5" r="1.65" fill="#cdc8c4"/>
<circle cx="497.5" cy="686.8" r="1.65" fill="#cdc8c4"/>
<circle cx="488.7" cy="695.9" r="1.65" fill="#cdc8c4"/>
<circle cx="490.7" cy="695.2" r="1.65" fill="#cdc8c4"/>
<circle cx="497.6" cy="690.8" r="1.65" fill="#cdc8c4"/>
<circle cx="485.1" cy="675.3" r="1.65" fill="#cdc8c4"/>
<circle cx="497.5" cy="676.8" r="1.65" fill="#cdc8c4"/>
<circle cx="491.7" cy="695.8" r="1.65" fill="#cdc8c4"/>
<circle cx="499.7" cy="697.4" r="1.65" fill="#cdc8c4"/>
<circle cx="482.5" cy="677.9" r="1.65" fill="#cdc8c4"/>
<circle cx="485.1" cy="664.8" r="1.65" fill="#cdc8c4"/>
<circle cx="493.9" cy="694.7" r="1.65" fill="#cdc8c4"/>
<circle cx="478.9" cy="686.1" r="1.65" fill="#cdc8c4"/>
<circle cx="499.1" cy="684.6" r="1.65" fill="#cdc8c4"/>
<circle cx="495.3" cy="680.6" r="1.65" fill="#cdc8c4"/>
<circle cx="500.1" cy="683.4" r="1.65" fill="#cdc8c4"/>
<circle cx="481.1" cy="686.6" r="1.65" fill="#cdc8c4"/>
<circle cx="500.3" cy="685.4" r="1.65" fill="#cdc8c4"/>
<circle cx="494.8" cy="691.2" r="1.65" fill="#cdc8c4"/>
<circle cx="499.5" cy="675.9" r="1.65" fill="#cdc8c4"/>
<circle cx="494.5" cy="690.3" r="1.65" fill="#cdc8c4"/>
<circle cx="498.0" cy="697.3" r="1.65" fill="#cdc8c4"/>
<circle cx="500.8" cy="692.8" r="1.65" fill="#cdc8c4"/>
<circle cx="481.4" cy="682.5" r="1.65" fill="#cdc8c4"/>
<circle cx="498.5" cy="691.3" r="1.65" fill="#cdc8c4"/>
<circle cx="500.3" cy="689.0" r="1.65" fill="#cdc8c4"/>
<circle cx="482.0" cy="692.7" r="1.65" fill="#cdc8c4"/>
<circle cx="494.5" cy="690.5" r="1.65" fill="#cdc8c4"/>
<circle cx="497.3" cy="679.3" r="1.65" fill="#cdc8c4"/>
<circle cx="498.3" cy="689.9" r="1.65" fill="#cdc8c4"/>
<circle cx="502.1" cy="684.3" r="1.65" fill="#cdc8c4"/>
<circle cx="483.6" cy="696.5" r="1.65" fill="#cdc8c4"/>
<circle cx="482.7" cy="668.9" r="1.65" fill="#cdc8c4"/>
<circle cx="502.0" cy="692.7" r="1.65" fill="#cdc8c4"/>
<circle cx="495.5" cy="690.8" r="1.65" fill="#cdc8c4"/>
<circle cx="499.4" cy="695.6" r="1.65" fill="#cdc8c4"/>
<circle cx="500.6" cy="686.2" r="1.65" fill="#cdc8c4"/>
<circle cx="502.3" cy="682.8" r="1.65" fill="#cdc8c4"/>
<circle cx="485.0" cy="691.3" r="1.65" fill="#cdc8c4"/>
<circle cx="487.1" cy="682.6" r="1.65" fill="#cdc8c4"/>
<circle cx="480.4" cy="690.8" r="1.65" fill="#cdc8c4"/>
<circle cx="496.1" cy="684.6" r="1.65" fill="#cdc8c4"/>
<circle cx="498.4" cy="680.3" r="1.65" fill="#cdc8c4"/>
<circle cx="489.4" cy="685.5" r="1.65" fill="#cdc8c4"/>
<circle cx="487.4" cy="692.3" r="1.65" fill="#cdc8c4"/>
<circle cx="501.7" cy="692.8" r="1.65" fill="#cdc8c4"/>
<circle cx="492.4" cy="697.3" r="1.65" fill="#cdc8c4"/>
<circle cx="496.7" cy="700.9" r="1.65" fill="#cdc8c4"/>
<circle cx="493.5" cy="699.7" r="1.65" fill="#cdc8c4"/>
<circle cx="489.2" cy="705.1" r="1.65" fill="#cdc8c4"/>
<circle cx="488.9" cy="704.7" r="1.65" fill="#cdc8c4"/>
<circle cx="490.5" cy="699.0" r="1.65" fill="#cdc8c4"/>
<circle cx="486.9" cy="693.4" r="1.65" fill="#cdc8c4"/>
<circle cx="493.6" cy="704.8" r="1.65" fill="#cdc8c4"/>
<circle cx="492.7" cy="706.2" r="1.65" fill="#cdc8c4"/>
<circle cx="496.0" cy="704.0" r="1.65" fill="#cdc8c4"/>
<circle cx="495.0" cy="700.9" r="1.65" fill="#cdc8c4"/>
<circle cx="489.1" cy="699.4" r="1.65" fill="#cdc8c4"/>
<circle cx="497.7" cy="696.4" r="1.65" fill="#cdc8c4"/>
<circle cx="490.8" cy="705.9" r="1.65" fill="#cdc8c4"/>
<circle cx="498.0" cy="692.7" r="1.65" fill="#cdc8c4"/>
<circle cx="495.5" cy="703.1" r="1.65" fill="#cdc8c4"/>
<circle cx="486.7" cy="696.1" r="1.65" fill="#cdc8c4"/>
<circle cx="491.6" cy="699.7" r="1.65" fill="#cdc8c4"/>
<circle cx="489.1" cy="702.6" r="1.65" fill="#cdc8c4"/>
<circle cx="496.6" cy="702.3" r="1.65" fill="#cdc8c4"/>
<circle cx="492.7" cy="691.9" r="1.65" fill="#cdc8c4"/>
<circle cx="492.1" cy="697.3" r="1.65" fill="#cdc8c4"/>
<circle cx="489.9" cy="696.0" r="1.65" fill="#cdc8c4"/>
<circle cx="489.7" cy="702.6" r="1.65" fill="#cdc8c4"/>
<circle cx="497.8" cy="697.0" r="1.65" fill="#cdc8c4"/>
<circle cx="496.2" cy="693.0" r="1.65" fill="#cdc8c4"/>
<circle cx="496.2" cy="702.9" r="1.65" fill="#cdc8c4"/>
<circle cx="495.9" cy="694.3" r="1.65" fill="#cdc8c4"/>
<circle cx="487.5" cy="701.5" r="1.65" fill="#cdc8c4"/>
<circle cx="493.0" cy="705.4" r="1.65" fill="#cdc8c4"/>
<circle cx="496.9" cy="699.9" r="1.65" fill="#cdc8c4"/>
<circle cx="497.9" cy="699.4" r="1.65" fill="#cdc8c4"/>
<circle cx="491.4" cy="706.7" r="1.65" fill="#cdc8c4"/>
<circle cx="491.4" cy="706.5" r="1.65" fill="#cdc8c4"/>
<circle cx="495.8" cy="692.7" r="1.65" fill="#cdc8c4"/>
<circle cx="491.6" cy="694.6" r="1.65" fill="#cdc8c4"/>
<circle cx="494.7" cy="695.7" r="1.65" fill="#cdc8c4"/>
<circle cx="490.6" cy="698.6" r="1.65" fill="#cdc8c4"/>
<circle cx="486.2" cy="692.2" r="1.65" fill="#cdc8c4"/>
<circle cx="491.4" cy="699.8" r="1.65" fill="#cdc8c4"/>
<circle cx="494.9" cy="697.9" r="1.65" fill="#cdc8c4"/>
<circle cx="491.8" cy="693.1" r="1.65" fill="#cdc8c4"/>
<circle cx="495.3" cy="691.7" r="1.65" fill="#cdc8c4"/>
<circle cx="496.6" cy="704.1" r="1.65" fill="#cdc8c4"/>
<circle cx="492.5" cy="706.4" r="1.65" fill="#cdc8c4"/>
<circle cx="497.0" cy="696.9" r="1.65" fill="#cdc8c4"/>
<circle cx="495.4" cy="691.7" r="1.65" fill="#cdc8c4"/>
<circle cx="487.5" cy="694.7" r="1.65" fill="#cdc8c4"/>
<circle cx="494.4" cy="698.1" r="1.65" fill="#cdc8c4"/>
<circle cx="494.3" cy="694.4" r="1.65" fill="#cdc8c4"/>
<circle cx="488.0" cy="694.0" r="1.65" fill="#cdc8c4"/>
<circle cx="488.8" cy="701.4" r="1.65" fill="#cdc8c4"/>
<circle cx="490.7" cy="695.1" r="1.65" fill="#cdc8c4"/>
<circle cx="488.8" cy="696.5" r="1.65" fill="#cdc8c4"/>
<circle cx="497.4" cy="700.3" r="1.65" fill="#cdc8c4"/>
<circle cx="492.5" cy="693.6" r="1.65" fill="#cdc8c4"/>
<circle cx="497.7" cy="699.5" r="1.65" fill="#cdc8c4"/>
<circle cx="488.4" cy="698.0" r="1.65" fill="#cdc8c4"/>
<circle cx="497.9" cy="695.7" r="1.65" fill="#cdc8c4"/>
<circle cx="494.8" cy="700.8" r="1.65" fill="#cdc8c4"/>
<circle cx="485.6" cy="642.5" r="1.65" fill="#a9d9de"/>
<circle cx="501.1" cy="617.4" r="1.65" fill="#f1a9ab"/>
<circle cx="501.1" cy="627.6" r="1.65" fill="#f1a9ab"/>
<circle cx="500" cy="630.4" r="1.65" fill="#f1a9ab"/>
<circle cx="503.7" cy="638.5" r="1.65" fill="#f1a9ab"/>
<circle cx="500.2" cy="640.2" r="1.65" fill="#f1a9ab"/>
<circle cx="454.4" cy="584.4" r="1.65" fill="#3f4796"/>
<circle cx="478.4" cy="583.4" r="1.65" fill="#3f4796"/>
<circle cx="470.4" cy="600" r="1.65" fill="#3f4796"/>
<circle cx="476.8" cy="612.7" r="1.65" fill="#3f4796"/>
<circle cx="476.3" cy="627.3" r="1.65" fill="#3f4796"/>
<circle cx="479.6" cy="632.4" r="1.65" fill="#3f4796"/>
<circle cx="474.6" cy="638.3" r="1.65" fill="#3f4796"/>
<circle cx="480.2" cy="643.1" r="1.65" fill="#3f4796"/>
<circle cx="463" cy="639" r="1.65" fill="#3f4796"/>
<circle cx="519.9" cy="617.3" r="1.65" fill="#e23030"/>
<circle cx="510.5" cy="619.9" r="1.65" fill="#e23030"/>
<circle cx="512.3" cy="626.3" r="1.65" fill="#e23030"/>
<circle cx="508.1" cy="628.2" r="1.65" fill="#e23030"/>
<circle cx="510.3" cy="629.5" r="1.65" fill="#e23030"/>
<circle cx="509.2" cy="630.8" r="1.65" fill="#e23030"/>
<circle cx="509.4" cy="635.5" r="1.65" fill="#e23030"/>
<line x1="393.5" y1="577" x2="393.5" y2="708.5" stroke="#736d69" stroke-width="1.3"/>
<line x1="392.9" y1="707.9" x2="593" y2="707.9" stroke="#6e6864" stroke-width="1.3"/>
<line x1="391.5" y1="707.8" x2="393.5" y2="707.8" stroke="#736d69" stroke-width="1"/>
<text transform="translate(389.6 711.89) scale(1 1.15)" font-size="10.5" text-anchor="end" fill="#1c1a18">0.0</text>
<line x1="391.5" y1="682.97" x2="393.5" y2="682.97" stroke="#736d69" stroke-width="1"/>
<text transform="translate(389.6 687.07) scale(1 1.15)" font-size="10.5" text-anchor="end" fill="#1c1a18">0.5</text>
<line x1="391.5" y1="658.15" x2="393.5" y2="658.15" stroke="#736d69" stroke-width="1"/>
<text transform="translate(389.6 662.25) scale(1 1.15)" font-size="10.5" text-anchor="end" fill="#1c1a18">1.0</text>
<line x1="391.5" y1="633.32" x2="393.5" y2="633.32" stroke="#736d69" stroke-width="1"/>
<text transform="translate(389.6 637.42) scale(1 1.15)" font-size="10.5" text-anchor="end" fill="#1c1a18">1.5</text>
<line x1="391.5" y1="608.5" x2="393.5" y2="608.5" stroke="#736d69" stroke-width="1"/>
<text transform="translate(389.6 612.6) scale(1 1.15)" font-size="10.5" text-anchor="end" fill="#1c1a18">2.0</text>
<line x1="391.5" y1="583.67" x2="393.5" y2="583.67" stroke="#736d69" stroke-width="1"/>
<text transform="translate(389.6 587.77) scale(1 1.15)" font-size="10.5" text-anchor="end" fill="#1c1a18">2.5</text>
<line x1="437.5" y1="707.9" x2="437.5" y2="709.9" stroke="#6e6864" stroke-width="1"/>
<text transform="translate(437.5 722) scale(1 1.15)" font-size="11" text-anchor="middle" fill="#1c1a18">-5</text>
<line x1="493.3" y1="707.9" x2="493.3" y2="709.9" stroke="#6e6864" stroke-width="1"/>
<text transform="translate(493.3 722) scale(1 1.15)" font-size="11" text-anchor="middle" fill="#1c1a18">0</text>
<line x1="549.1" y1="707.9" x2="549.1" y2="709.9" stroke="#6e6864" stroke-width="1"/>
<text transform="translate(549.1 722) scale(1 1.15)" font-size="11" text-anchor="middle" fill="#1c1a18">5</text>
<text transform="translate(371 562) scale(1 1.1)" font-size="17.5" text-anchor="start" fill="#1c1a18">F</text>
<text transform="translate(414.6 572.8) scale(1 1.15)" font-size="11.5" text-anchor="start" textLength="169.5" lengthAdjust="spacingAndGlyphs" fill="#1c1a18">ADMSCEVs vs Normal (negative)</text>
<text transform="translate(401 597.2) scale(1 1.15)" font-size="11.4" text-anchor="start" fill="#1c1a18">Down (11)</text>
<text transform="translate(522.4 597.3) scale(1 1.15)" font-size="11.4" text-anchor="start" fill="#1c1a18">Up (13)</text>
<text transform="translate(368.5 641.3) rotate(-90) scale(1 0.95)" font-size="13" text-anchor="middle" fill="#1c1a18">-Lg(p)</text>
<text transform="translate(446.9 738) scale(1 1.15)" font-size="11.1" text-anchor="start" fill="#1c1a18">Log<tspan font-size="5.6" dx="1.3" dy="0.3">2</tspan><tspan dx="1.3" dy="-0.3">(Fold Change)</tspan></text>
<circle cx="579.6" cy="607.6" r="3.8" fill="#cdc8c4"/>
<text transform="translate(588 611.3) scale(1 1.15)" font-size="11" text-anchor="start" fill="#1c1a18">Insignificant change</text>
<circle cx="579.6" cy="619.4" r="3.8" fill="#a9d9de"/>
<text transform="translate(588 623.1) scale(1 1.15)" font-size="11" text-anchor="start" fill="#1c1a18">-1 &lt; Log<tspan font-size="5.4" dx="1.4" dy="0.5">2</tspan><tspan dx="1.3" dy="-0.5">(FC) &lt; 0</tspan></text>
<circle cx="579.6" cy="631.4" r="3.8" fill="#3f4796"/>
<text transform="translate(588 635.1) scale(1 1.15)" font-size="11" text-anchor="start" fill="#1c1a18">Log<tspan font-size="5.4" dx="1.4" dy="0.5">2</tspan><tspan dx="1.3" dy="-0.5">(FC) &lt; -1</tspan></text>
<circle cx="579.6" cy="643.4" r="3.8" fill="#f1a9ab"/>
<text transform="translate(588 647.1) scale(1 1.15)" font-size="11" text-anchor="start" fill="#1c1a18">0 &lt; Log<tspan font-size="5.4" dx="1.4" dy="0.5">2</tspan><tspan dx="1.3" dy="-0.5">(FC) &lt; 1</tspan></text>
<circle cx="579.6" cy="654.6" r="3.8" fill="#e23030"/>
<text transform="translate(588 658.3) scale(1 1.15)" font-size="11" text-anchor="start" fill="#1c1a18">Log<tspan font-size="5.4" dx="1.4" dy="0.5">2</tspan><tspan dx="1.3" dy="-0.5">(FC) &gt; 1</tspan></text>
</svg>
</body></html>
